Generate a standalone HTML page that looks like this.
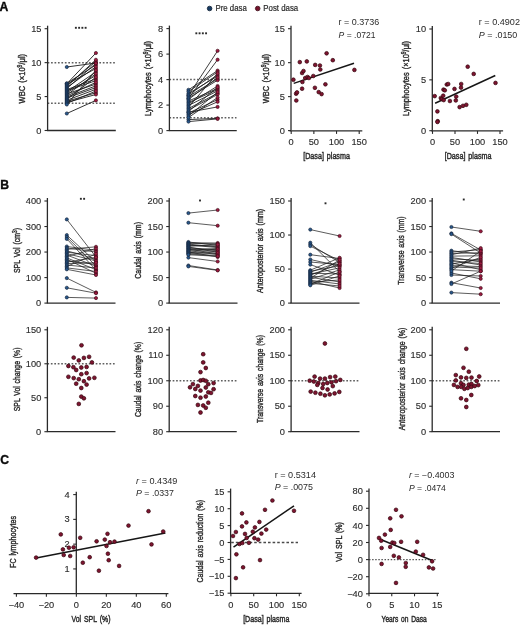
<!DOCTYPE html>
<html><head><meta charset="utf-8"><style>
html,body{margin:0;padding:0;background:#fff;}
body{width:520px;height:625px;overflow:hidden;}
svg{display:block;font-family:"Liberation Sans",sans-serif;will-change:transform;}
</style></head><body>
<svg width="520" height="625" viewBox="0 0 520 625">
<rect width="520" height="625" fill="#fff"/>
<text x="-0.4" y="10.5" font-size="12.2" font-weight="bold" fill="#0a0a0a" stroke="#0a0a0a" stroke-width="0.35">A</text>
<text x="0.3" y="189.2" font-size="12.2" font-weight="bold" fill="#0a0a0a" stroke="#0a0a0a" stroke-width="0.35">B</text>
<text x="0.2" y="463.8" font-size="12.2" font-weight="bold" fill="#0a0a0a" stroke="#0a0a0a" stroke-width="0.35">C</text>
<circle cx="209.60" cy="8.50" r="2.3" fill="#183c63" stroke="#0f1f33" stroke-width="0.8"/>
<text x="215.50" y="11.40" font-size="8.6" text-anchor="start" fill="#2b2b2b" stroke="#2b2b2b" stroke-width="0.2" textLength="31.3" lengthAdjust="spacingAndGlyphs" >Pre dasa</text>
<circle cx="257.70" cy="8.50" r="2.3" fill="#75122c" stroke="#3a0915" stroke-width="0.8"/>
<text x="263.30" y="11.40" font-size="8.6" text-anchor="start" fill="#2b2b2b" stroke="#2b2b2b" stroke-width="0.2" textLength="34.9" lengthAdjust="spacingAndGlyphs" >Post dasa</text>
<line x1="47.60" y1="62.63" x2="115.50" y2="62.63" stroke="#606060" stroke-width="1.5" stroke-dasharray="1.7 1.75"/>
<line x1="47.60" y1="103.35" x2="115.50" y2="103.35" stroke="#606060" stroke-width="1.5" stroke-dasharray="1.7 1.75"/>
<line x1="47.60" y1="130.50" x2="47.60" y2="25.70" stroke="#2a2a2a" stroke-width="1.3" />
<line x1="44.60" y1="130.50" x2="47.60" y2="130.50" stroke="#2a2a2a" stroke-width="1.1" />
<text x="41.50" y="133.60" font-size="8.6" text-anchor="end" fill="#2b2b2b" stroke="#2b2b2b" stroke-width="0.12" textLength="5.16" lengthAdjust="spacingAndGlyphs" >0</text>
<line x1="44.60" y1="96.57" x2="47.60" y2="96.57" stroke="#2a2a2a" stroke-width="1.1" />
<text x="41.50" y="99.66" font-size="8.6" text-anchor="end" fill="#2b2b2b" stroke="#2b2b2b" stroke-width="0.12" textLength="5.16" lengthAdjust="spacingAndGlyphs" >5</text>
<line x1="44.60" y1="62.63" x2="47.60" y2="62.63" stroke="#2a2a2a" stroke-width="1.1" />
<text x="41.50" y="65.73" font-size="8.6" text-anchor="end" fill="#2b2b2b" stroke="#2b2b2b" stroke-width="0.12" textLength="10.33" lengthAdjust="spacingAndGlyphs" >10</text>
<line x1="44.60" y1="28.70" x2="47.60" y2="28.70" stroke="#2a2a2a" stroke-width="1.1" />
<text x="41.50" y="31.80" font-size="8.6" text-anchor="end" fill="#2b2b2b" stroke="#2b2b2b" stroke-width="0.12" textLength="10.33" lengthAdjust="spacingAndGlyphs" >15</text>
<line x1="47.00" y1="130.50" x2="115.80" y2="130.50" stroke="#2a2a2a" stroke-width="1.3" />
<text transform="translate(24.50,78.70) rotate(-90)" font-size="9.3" text-anchor="middle" fill="#2b2b2b" stroke="#2b2b2b" stroke-width="0.4" word-spacing="1.3" textLength="49.6" lengthAdjust="spacingAndGlyphs">WBC (×10<tspan dy="-3" font-size="6.3">9</tspan><tspan dy="3">/μl)</tspan></text>
<rect x="74.92" y="26.85" width="1.9" height="1.9" fill="#2a2a2a"/>
<rect x="78.17" y="26.85" width="1.9" height="1.9" fill="#2a2a2a"/>
<rect x="81.42" y="26.85" width="1.9" height="1.9" fill="#2a2a2a"/>
<rect x="84.67" y="26.85" width="1.9" height="1.9" fill="#2a2a2a"/>
<line x1="66.80" y1="67.00" x2="95.90" y2="63.00" stroke="#1c1c1c" stroke-width="0.9" />
<line x1="66.80" y1="113.50" x2="95.90" y2="100.40" stroke="#1c1c1c" stroke-width="0.9" />
<line x1="66.80" y1="83.80" x2="95.90" y2="53.00" stroke="#1c1c1c" stroke-width="0.9" />
<line x1="66.80" y1="83.26" x2="95.90" y2="65.00" stroke="#1c1c1c" stroke-width="0.9" />
<line x1="66.80" y1="84.32" x2="95.90" y2="68.47" stroke="#1c1c1c" stroke-width="0.9" />
<line x1="66.80" y1="85.39" x2="95.90" y2="61.53" stroke="#1c1c1c" stroke-width="0.9" />
<line x1="66.80" y1="86.45" x2="95.90" y2="59.80" stroke="#1c1c1c" stroke-width="0.9" />
<line x1="66.80" y1="87.51" x2="95.90" y2="66.74" stroke="#1c1c1c" stroke-width="0.9" />
<line x1="66.80" y1="88.57" x2="95.90" y2="63.27" stroke="#1c1c1c" stroke-width="0.9" />
<line x1="66.80" y1="89.63" x2="95.90" y2="78.88" stroke="#1c1c1c" stroke-width="0.9" />
<line x1="66.80" y1="90.70" x2="95.90" y2="80.62" stroke="#1c1c1c" stroke-width="0.9" />
<line x1="66.80" y1="91.76" x2="95.90" y2="71.94" stroke="#1c1c1c" stroke-width="0.9" />
<line x1="66.80" y1="92.82" x2="95.90" y2="75.41" stroke="#1c1c1c" stroke-width="0.9" />
<line x1="66.80" y1="93.88" x2="95.90" y2="84.09" stroke="#1c1c1c" stroke-width="0.9" />
<line x1="66.80" y1="94.94" x2="95.90" y2="73.68" stroke="#1c1c1c" stroke-width="0.9" />
<line x1="66.80" y1="96.00" x2="95.90" y2="82.35" stroke="#1c1c1c" stroke-width="0.9" />
<line x1="66.80" y1="97.07" x2="95.90" y2="85.82" stroke="#1c1c1c" stroke-width="0.9" />
<line x1="66.80" y1="98.13" x2="95.90" y2="87.56" stroke="#1c1c1c" stroke-width="0.9" />
<line x1="66.80" y1="99.19" x2="95.90" y2="77.15" stroke="#1c1c1c" stroke-width="0.9" />
<line x1="66.80" y1="100.25" x2="95.90" y2="89.30" stroke="#1c1c1c" stroke-width="0.9" />
<line x1="66.80" y1="101.31" x2="95.90" y2="92.77" stroke="#1c1c1c" stroke-width="0.9" />
<line x1="66.80" y1="102.38" x2="95.90" y2="94.50" stroke="#1c1c1c" stroke-width="0.9" />
<line x1="66.80" y1="103.44" x2="95.90" y2="91.03" stroke="#1c1c1c" stroke-width="0.9" />
<line x1="66.80" y1="104.50" x2="95.90" y2="70.21" stroke="#1c1c1c" stroke-width="0.9" />
<circle cx="66.80" cy="67.00" r="1.6" fill="#28588c" stroke="#142238" stroke-width="0.65"/>
<circle cx="66.80" cy="113.50" r="1.6" fill="#28588c" stroke="#142238" stroke-width="0.65"/>
<circle cx="66.80" cy="83.80" r="1.6" fill="#28588c" stroke="#142238" stroke-width="0.65"/>
<circle cx="66.80" cy="83.26" r="1.6" fill="#28588c" stroke="#142238" stroke-width="0.65"/>
<circle cx="66.80" cy="84.32" r="1.6" fill="#28588c" stroke="#142238" stroke-width="0.65"/>
<circle cx="66.80" cy="85.39" r="1.6" fill="#28588c" stroke="#142238" stroke-width="0.65"/>
<circle cx="66.80" cy="86.45" r="1.6" fill="#28588c" stroke="#142238" stroke-width="0.65"/>
<circle cx="66.80" cy="87.51" r="1.6" fill="#28588c" stroke="#142238" stroke-width="0.65"/>
<circle cx="66.80" cy="88.57" r="1.6" fill="#28588c" stroke="#142238" stroke-width="0.65"/>
<circle cx="66.80" cy="89.63" r="1.6" fill="#28588c" stroke="#142238" stroke-width="0.65"/>
<circle cx="66.80" cy="90.70" r="1.6" fill="#28588c" stroke="#142238" stroke-width="0.65"/>
<circle cx="66.80" cy="91.76" r="1.6" fill="#28588c" stroke="#142238" stroke-width="0.65"/>
<circle cx="66.80" cy="92.82" r="1.6" fill="#28588c" stroke="#142238" stroke-width="0.65"/>
<circle cx="66.80" cy="93.88" r="1.6" fill="#28588c" stroke="#142238" stroke-width="0.65"/>
<circle cx="66.80" cy="94.94" r="1.6" fill="#28588c" stroke="#142238" stroke-width="0.65"/>
<circle cx="66.80" cy="96.00" r="1.6" fill="#28588c" stroke="#142238" stroke-width="0.65"/>
<circle cx="66.80" cy="97.07" r="1.6" fill="#28588c" stroke="#142238" stroke-width="0.65"/>
<circle cx="66.80" cy="98.13" r="1.6" fill="#28588c" stroke="#142238" stroke-width="0.65"/>
<circle cx="66.80" cy="99.19" r="1.6" fill="#28588c" stroke="#142238" stroke-width="0.65"/>
<circle cx="66.80" cy="100.25" r="1.6" fill="#28588c" stroke="#142238" stroke-width="0.65"/>
<circle cx="66.80" cy="101.31" r="1.6" fill="#28588c" stroke="#142238" stroke-width="0.65"/>
<circle cx="66.80" cy="102.38" r="1.6" fill="#28588c" stroke="#142238" stroke-width="0.65"/>
<circle cx="66.80" cy="103.44" r="1.6" fill="#28588c" stroke="#142238" stroke-width="0.65"/>
<circle cx="66.80" cy="104.50" r="1.6" fill="#28588c" stroke="#142238" stroke-width="0.65"/>
<circle cx="95.90" cy="63.00" r="1.6" fill="#9c1a40" stroke="#3a0916" stroke-width="0.65"/>
<circle cx="95.90" cy="100.40" r="1.6" fill="#9c1a40" stroke="#3a0916" stroke-width="0.65"/>
<circle cx="95.90" cy="53.00" r="1.6" fill="#9c1a40" stroke="#3a0916" stroke-width="0.65"/>
<circle cx="95.90" cy="65.00" r="1.6" fill="#9c1a40" stroke="#3a0916" stroke-width="0.65"/>
<circle cx="95.90" cy="68.47" r="1.6" fill="#9c1a40" stroke="#3a0916" stroke-width="0.65"/>
<circle cx="95.90" cy="61.53" r="1.6" fill="#9c1a40" stroke="#3a0916" stroke-width="0.65"/>
<circle cx="95.90" cy="59.80" r="1.6" fill="#9c1a40" stroke="#3a0916" stroke-width="0.65"/>
<circle cx="95.90" cy="66.74" r="1.6" fill="#9c1a40" stroke="#3a0916" stroke-width="0.65"/>
<circle cx="95.90" cy="63.27" r="1.6" fill="#9c1a40" stroke="#3a0916" stroke-width="0.65"/>
<circle cx="95.90" cy="78.88" r="1.6" fill="#9c1a40" stroke="#3a0916" stroke-width="0.65"/>
<circle cx="95.90" cy="80.62" r="1.6" fill="#9c1a40" stroke="#3a0916" stroke-width="0.65"/>
<circle cx="95.90" cy="71.94" r="1.6" fill="#9c1a40" stroke="#3a0916" stroke-width="0.65"/>
<circle cx="95.90" cy="75.41" r="1.6" fill="#9c1a40" stroke="#3a0916" stroke-width="0.65"/>
<circle cx="95.90" cy="84.09" r="1.6" fill="#9c1a40" stroke="#3a0916" stroke-width="0.65"/>
<circle cx="95.90" cy="73.68" r="1.6" fill="#9c1a40" stroke="#3a0916" stroke-width="0.65"/>
<circle cx="95.90" cy="82.35" r="1.6" fill="#9c1a40" stroke="#3a0916" stroke-width="0.65"/>
<circle cx="95.90" cy="85.82" r="1.6" fill="#9c1a40" stroke="#3a0916" stroke-width="0.65"/>
<circle cx="95.90" cy="87.56" r="1.6" fill="#9c1a40" stroke="#3a0916" stroke-width="0.65"/>
<circle cx="95.90" cy="77.15" r="1.6" fill="#9c1a40" stroke="#3a0916" stroke-width="0.65"/>
<circle cx="95.90" cy="89.30" r="1.6" fill="#9c1a40" stroke="#3a0916" stroke-width="0.65"/>
<circle cx="95.90" cy="92.77" r="1.6" fill="#9c1a40" stroke="#3a0916" stroke-width="0.65"/>
<circle cx="95.90" cy="94.50" r="1.6" fill="#9c1a40" stroke="#3a0916" stroke-width="0.65"/>
<circle cx="95.90" cy="91.03" r="1.6" fill="#9c1a40" stroke="#3a0916" stroke-width="0.65"/>
<circle cx="95.90" cy="70.21" r="1.6" fill="#9c1a40" stroke="#3a0916" stroke-width="0.65"/>
<line x1="169.40" y1="79.60" x2="236.50" y2="79.60" stroke="#606060" stroke-width="1.5" stroke-dasharray="1.7 1.75"/>
<line x1="169.40" y1="117.85" x2="236.50" y2="117.85" stroke="#606060" stroke-width="1.5" stroke-dasharray="1.7 1.75"/>
<line x1="169.40" y1="130.60" x2="169.40" y2="25.60" stroke="#2a2a2a" stroke-width="1.3" />
<line x1="166.40" y1="130.60" x2="169.40" y2="130.60" stroke="#2a2a2a" stroke-width="1.1" />
<text x="163.30" y="133.70" font-size="8.6" text-anchor="end" fill="#2b2b2b" stroke="#2b2b2b" stroke-width="0.12" textLength="5.16" lengthAdjust="spacingAndGlyphs" >0</text>
<line x1="166.40" y1="105.10" x2="169.40" y2="105.10" stroke="#2a2a2a" stroke-width="1.1" />
<text x="163.30" y="108.20" font-size="8.6" text-anchor="end" fill="#2b2b2b" stroke="#2b2b2b" stroke-width="0.12" textLength="5.16" lengthAdjust="spacingAndGlyphs" >2</text>
<line x1="166.40" y1="79.60" x2="169.40" y2="79.60" stroke="#2a2a2a" stroke-width="1.1" />
<text x="163.30" y="82.70" font-size="8.6" text-anchor="end" fill="#2b2b2b" stroke="#2b2b2b" stroke-width="0.12" textLength="5.16" lengthAdjust="spacingAndGlyphs" >4</text>
<line x1="166.40" y1="54.10" x2="169.40" y2="54.10" stroke="#2a2a2a" stroke-width="1.1" />
<text x="163.30" y="57.20" font-size="8.6" text-anchor="end" fill="#2b2b2b" stroke="#2b2b2b" stroke-width="0.12" textLength="5.16" lengthAdjust="spacingAndGlyphs" >6</text>
<line x1="166.40" y1="28.60" x2="169.40" y2="28.60" stroke="#2a2a2a" stroke-width="1.1" />
<text x="163.30" y="31.70" font-size="8.6" text-anchor="end" fill="#2b2b2b" stroke="#2b2b2b" stroke-width="0.12" textLength="5.16" lengthAdjust="spacingAndGlyphs" >8</text>
<line x1="168.80" y1="130.60" x2="236.75" y2="130.60" stroke="#2a2a2a" stroke-width="1.3" />
<text transform="translate(150.70,78.40) rotate(-90)" font-size="9.3" text-anchor="middle" fill="#2b2b2b" stroke="#2b2b2b" stroke-width="0.4" word-spacing="1.3" textLength="75.0" lengthAdjust="spacingAndGlyphs">Lymphocytes (×10<tspan dy="-3" font-size="6.3">9</tspan><tspan dy="3">/μl)</tspan></text>
<rect x="195.38" y="32.35" width="1.9" height="1.9" fill="#2a2a2a"/>
<rect x="198.62" y="32.35" width="1.9" height="1.9" fill="#2a2a2a"/>
<rect x="201.88" y="32.35" width="1.9" height="1.9" fill="#2a2a2a"/>
<rect x="205.12" y="32.35" width="1.9" height="1.9" fill="#2a2a2a"/>
<line x1="188.50" y1="95.40" x2="217.60" y2="50.80" stroke="#1c1c1c" stroke-width="0.85" />
<line x1="188.50" y1="98.50" x2="217.60" y2="59.70" stroke="#1c1c1c" stroke-width="0.85" />
<line x1="188.50" y1="119.60" x2="217.60" y2="118.30" stroke="#1c1c1c" stroke-width="0.85" />
<line x1="188.50" y1="121.60" x2="217.60" y2="118.90" stroke="#1c1c1c" stroke-width="0.85" />
<line x1="188.50" y1="112.30" x2="217.60" y2="106.90" stroke="#1c1c1c" stroke-width="0.85" />
<line x1="188.50" y1="89.80" x2="217.60" y2="70.60" stroke="#1c1c1c" stroke-width="0.85" />
<line x1="188.50" y1="91.50" x2="217.60" y2="71.97" stroke="#1c1c1c" stroke-width="0.85" />
<line x1="188.50" y1="93.50" x2="217.60" y2="76.09" stroke="#1c1c1c" stroke-width="0.85" />
<line x1="188.50" y1="95.00" x2="217.60" y2="74.71" stroke="#1c1c1c" stroke-width="0.85" />
<line x1="188.50" y1="96.50" x2="217.60" y2="78.83" stroke="#1c1c1c" stroke-width="0.85" />
<line x1="188.50" y1="98.00" x2="217.60" y2="80.20" stroke="#1c1c1c" stroke-width="0.85" />
<line x1="188.50" y1="99.50" x2="217.60" y2="77.46" stroke="#1c1c1c" stroke-width="0.85" />
<line x1="188.50" y1="101.00" x2="217.60" y2="88.43" stroke="#1c1c1c" stroke-width="0.85" />
<line x1="188.50" y1="102.50" x2="217.60" y2="89.64" stroke="#1c1c1c" stroke-width="0.85" />
<line x1="188.50" y1="104.00" x2="217.60" y2="86.00" stroke="#1c1c1c" stroke-width="0.85" />
<line x1="188.50" y1="105.50" x2="217.60" y2="90.86" stroke="#1c1c1c" stroke-width="0.85" />
<line x1="188.50" y1="107.00" x2="217.60" y2="73.34" stroke="#1c1c1c" stroke-width="0.85" />
<line x1="188.50" y1="108.50" x2="217.60" y2="93.29" stroke="#1c1c1c" stroke-width="0.85" />
<line x1="188.50" y1="110.00" x2="217.60" y2="94.50" stroke="#1c1c1c" stroke-width="0.85" />
<line x1="188.50" y1="111.50" x2="217.60" y2="87.21" stroke="#1c1c1c" stroke-width="0.85" />
<line x1="188.50" y1="113.00" x2="217.60" y2="99.65" stroke="#1c1c1c" stroke-width="0.85" />
<line x1="188.50" y1="114.50" x2="217.60" y2="101.80" stroke="#1c1c1c" stroke-width="0.85" />
<line x1="188.50" y1="116.00" x2="217.60" y2="92.07" stroke="#1c1c1c" stroke-width="0.85" />
<line x1="188.50" y1="117.50" x2="217.60" y2="97.50" stroke="#1c1c1c" stroke-width="0.85" />
<circle cx="188.50" cy="95.40" r="1.6" fill="#28588c" stroke="#142238" stroke-width="0.65"/>
<circle cx="188.50" cy="98.50" r="1.6" fill="#28588c" stroke="#142238" stroke-width="0.65"/>
<circle cx="188.50" cy="119.60" r="1.6" fill="#28588c" stroke="#142238" stroke-width="0.65"/>
<circle cx="188.50" cy="121.60" r="1.6" fill="#28588c" stroke="#142238" stroke-width="0.65"/>
<circle cx="188.50" cy="112.30" r="1.6" fill="#28588c" stroke="#142238" stroke-width="0.65"/>
<circle cx="188.50" cy="89.80" r="1.6" fill="#28588c" stroke="#142238" stroke-width="0.65"/>
<circle cx="188.50" cy="91.50" r="1.6" fill="#28588c" stroke="#142238" stroke-width="0.65"/>
<circle cx="188.50" cy="93.50" r="1.6" fill="#28588c" stroke="#142238" stroke-width="0.65"/>
<circle cx="188.50" cy="95.00" r="1.6" fill="#28588c" stroke="#142238" stroke-width="0.65"/>
<circle cx="188.50" cy="96.50" r="1.6" fill="#28588c" stroke="#142238" stroke-width="0.65"/>
<circle cx="188.50" cy="98.00" r="1.6" fill="#28588c" stroke="#142238" stroke-width="0.65"/>
<circle cx="188.50" cy="99.50" r="1.6" fill="#28588c" stroke="#142238" stroke-width="0.65"/>
<circle cx="188.50" cy="101.00" r="1.6" fill="#28588c" stroke="#142238" stroke-width="0.65"/>
<circle cx="188.50" cy="102.50" r="1.6" fill="#28588c" stroke="#142238" stroke-width="0.65"/>
<circle cx="188.50" cy="104.00" r="1.6" fill="#28588c" stroke="#142238" stroke-width="0.65"/>
<circle cx="188.50" cy="105.50" r="1.6" fill="#28588c" stroke="#142238" stroke-width="0.65"/>
<circle cx="188.50" cy="107.00" r="1.6" fill="#28588c" stroke="#142238" stroke-width="0.65"/>
<circle cx="188.50" cy="108.50" r="1.6" fill="#28588c" stroke="#142238" stroke-width="0.65"/>
<circle cx="188.50" cy="110.00" r="1.6" fill="#28588c" stroke="#142238" stroke-width="0.65"/>
<circle cx="188.50" cy="111.50" r="1.6" fill="#28588c" stroke="#142238" stroke-width="0.65"/>
<circle cx="188.50" cy="113.00" r="1.6" fill="#28588c" stroke="#142238" stroke-width="0.65"/>
<circle cx="188.50" cy="114.50" r="1.6" fill="#28588c" stroke="#142238" stroke-width="0.65"/>
<circle cx="188.50" cy="116.00" r="1.6" fill="#28588c" stroke="#142238" stroke-width="0.65"/>
<circle cx="188.50" cy="117.50" r="1.6" fill="#28588c" stroke="#142238" stroke-width="0.65"/>
<circle cx="217.60" cy="50.80" r="1.6" fill="#9c1a40" stroke="#3a0916" stroke-width="0.65"/>
<circle cx="217.60" cy="59.70" r="1.6" fill="#9c1a40" stroke="#3a0916" stroke-width="0.65"/>
<circle cx="217.60" cy="118.30" r="1.6" fill="#9c1a40" stroke="#3a0916" stroke-width="0.65"/>
<circle cx="217.60" cy="118.90" r="1.6" fill="#9c1a40" stroke="#3a0916" stroke-width="0.65"/>
<circle cx="217.60" cy="106.90" r="1.6" fill="#9c1a40" stroke="#3a0916" stroke-width="0.65"/>
<circle cx="217.60" cy="70.60" r="1.6" fill="#9c1a40" stroke="#3a0916" stroke-width="0.65"/>
<circle cx="217.60" cy="71.97" r="1.6" fill="#9c1a40" stroke="#3a0916" stroke-width="0.65"/>
<circle cx="217.60" cy="76.09" r="1.6" fill="#9c1a40" stroke="#3a0916" stroke-width="0.65"/>
<circle cx="217.60" cy="74.71" r="1.6" fill="#9c1a40" stroke="#3a0916" stroke-width="0.65"/>
<circle cx="217.60" cy="78.83" r="1.6" fill="#9c1a40" stroke="#3a0916" stroke-width="0.65"/>
<circle cx="217.60" cy="80.20" r="1.6" fill="#9c1a40" stroke="#3a0916" stroke-width="0.65"/>
<circle cx="217.60" cy="77.46" r="1.6" fill="#9c1a40" stroke="#3a0916" stroke-width="0.65"/>
<circle cx="217.60" cy="88.43" r="1.6" fill="#9c1a40" stroke="#3a0916" stroke-width="0.65"/>
<circle cx="217.60" cy="89.64" r="1.6" fill="#9c1a40" stroke="#3a0916" stroke-width="0.65"/>
<circle cx="217.60" cy="86.00" r="1.6" fill="#9c1a40" stroke="#3a0916" stroke-width="0.65"/>
<circle cx="217.60" cy="90.86" r="1.6" fill="#9c1a40" stroke="#3a0916" stroke-width="0.65"/>
<circle cx="217.60" cy="73.34" r="1.6" fill="#9c1a40" stroke="#3a0916" stroke-width="0.65"/>
<circle cx="217.60" cy="93.29" r="1.6" fill="#9c1a40" stroke="#3a0916" stroke-width="0.65"/>
<circle cx="217.60" cy="94.50" r="1.6" fill="#9c1a40" stroke="#3a0916" stroke-width="0.65"/>
<circle cx="217.60" cy="87.21" r="1.6" fill="#9c1a40" stroke="#3a0916" stroke-width="0.65"/>
<circle cx="217.60" cy="99.65" r="1.6" fill="#9c1a40" stroke="#3a0916" stroke-width="0.65"/>
<circle cx="217.60" cy="101.80" r="1.6" fill="#9c1a40" stroke="#3a0916" stroke-width="0.65"/>
<circle cx="217.60" cy="92.07" r="1.6" fill="#9c1a40" stroke="#3a0916" stroke-width="0.65"/>
<circle cx="217.60" cy="97.50" r="1.6" fill="#9c1a40" stroke="#3a0916" stroke-width="0.65"/>
<line x1="291.00" y1="130.60" x2="291.00" y2="25.70" stroke="#2a2a2a" stroke-width="1.3" />
<line x1="288.00" y1="130.60" x2="291.00" y2="130.60" stroke="#2a2a2a" stroke-width="1.1" />
<text x="284.90" y="133.70" font-size="8.6" text-anchor="end" fill="#2b2b2b" stroke="#2b2b2b" stroke-width="0.12" textLength="5.16" lengthAdjust="spacingAndGlyphs" >0</text>
<line x1="288.00" y1="96.63" x2="291.00" y2="96.63" stroke="#2a2a2a" stroke-width="1.1" />
<text x="284.90" y="99.73" font-size="8.6" text-anchor="end" fill="#2b2b2b" stroke="#2b2b2b" stroke-width="0.12" textLength="5.16" lengthAdjust="spacingAndGlyphs" >5</text>
<line x1="288.00" y1="62.67" x2="291.00" y2="62.67" stroke="#2a2a2a" stroke-width="1.1" />
<text x="284.90" y="65.76" font-size="8.6" text-anchor="end" fill="#2b2b2b" stroke="#2b2b2b" stroke-width="0.12" textLength="10.33" lengthAdjust="spacingAndGlyphs" >10</text>
<line x1="288.00" y1="28.70" x2="291.00" y2="28.70" stroke="#2a2a2a" stroke-width="1.1" />
<text x="284.90" y="31.80" font-size="8.6" text-anchor="end" fill="#2b2b2b" stroke="#2b2b2b" stroke-width="0.12" textLength="10.33" lengthAdjust="spacingAndGlyphs" >15</text>
<line x1="289.60" y1="130.90" x2="362.30" y2="130.90" stroke="#2a2a2a" stroke-width="1.3" />
<line x1="291.20" y1="130.90" x2="291.20" y2="133.90" stroke="#2a2a2a" stroke-width="1.1" />
<text x="291.20" y="145.10" font-size="8.6" text-anchor="middle" fill="#2b2b2b" stroke="#2b2b2b" stroke-width="0.12" textLength="5.16" lengthAdjust="spacingAndGlyphs" >0</text>
<line x1="313.87" y1="130.90" x2="313.87" y2="133.90" stroke="#2a2a2a" stroke-width="1.1" />
<text x="313.87" y="145.10" font-size="8.6" text-anchor="middle" fill="#2b2b2b" stroke="#2b2b2b" stroke-width="0.12" textLength="10.33" lengthAdjust="spacingAndGlyphs" >50</text>
<line x1="336.53" y1="130.90" x2="336.53" y2="133.90" stroke="#2a2a2a" stroke-width="1.1" />
<text x="336.53" y="145.10" font-size="8.6" text-anchor="middle" fill="#2b2b2b" stroke="#2b2b2b" stroke-width="0.12" textLength="15.49" lengthAdjust="spacingAndGlyphs" >100</text>
<line x1="359.20" y1="130.90" x2="359.20" y2="133.90" stroke="#2a2a2a" stroke-width="1.1" />
<text x="359.20" y="145.10" font-size="8.6" text-anchor="middle" fill="#2b2b2b" stroke="#2b2b2b" stroke-width="0.12" textLength="15.49" lengthAdjust="spacingAndGlyphs" >150</text>
<text transform="translate(268.50,78.60) rotate(-90)" font-size="9.3" text-anchor="middle" fill="#2b2b2b" stroke="#2b2b2b" stroke-width="0.4" word-spacing="1.3" textLength="49.4" lengthAdjust="spacingAndGlyphs">WBC (×10<tspan dy="-3" font-size="6.3">9</tspan><tspan dy="3">/μl)</tspan></text>
<text x="326.55" y="159.40" font-size="9.600000000000001" text-anchor="middle" fill="#2b2b2b" stroke="#2b2b2b" stroke-width="0.45" word-spacing="1.3" textLength="46.7" lengthAdjust="spacingAndGlyphs">[Dasa] plasma</text>
<text x="338.60" y="25.10" font-size="8.3" fill="#2b2b2b" textLength="40.6" lengthAdjust="spacingAndGlyphs">r = 0.3736</text>
<text x="338.60" y="37.60" font-size="8.3" fill="#2b2b2b" textLength="36.8" lengthAdjust="spacingAndGlyphs"><tspan font-style="italic">P</tspan> = .0721</text>
<line x1="293.70" y1="83.40" x2="354.00" y2="63.20" stroke="#161616" stroke-width="1.5" />
<circle cx="293.40" cy="79.70" r="1.85" fill="#7e1430" stroke="#34070f" stroke-width="0.7"/>
<circle cx="296.30" cy="100.50" r="1.85" fill="#7e1430" stroke="#34070f" stroke-width="0.7"/>
<circle cx="296.10" cy="93.70" r="1.85" fill="#7e1430" stroke="#34070f" stroke-width="0.7"/>
<circle cx="297.00" cy="92.40" r="1.85" fill="#7e1430" stroke="#34070f" stroke-width="0.7"/>
<circle cx="299.80" cy="62.10" r="1.85" fill="#7e1430" stroke="#34070f" stroke-width="0.7"/>
<circle cx="302.10" cy="73.00" r="1.85" fill="#7e1430" stroke="#34070f" stroke-width="0.7"/>
<circle cx="303.50" cy="71.00" r="1.85" fill="#7e1430" stroke="#34070f" stroke-width="0.7"/>
<circle cx="302.40" cy="82.00" r="1.85" fill="#7e1430" stroke="#34070f" stroke-width="0.7"/>
<circle cx="302.10" cy="88.70" r="1.85" fill="#7e1430" stroke="#34070f" stroke-width="0.7"/>
<circle cx="305.20" cy="78.00" r="1.85" fill="#7e1430" stroke="#34070f" stroke-width="0.7"/>
<circle cx="306.80" cy="61.40" r="1.85" fill="#7e1430" stroke="#34070f" stroke-width="0.7"/>
<circle cx="307.50" cy="77.00" r="1.85" fill="#7e1430" stroke="#34070f" stroke-width="0.7"/>
<circle cx="308.90" cy="78.00" r="1.85" fill="#7e1430" stroke="#34070f" stroke-width="0.7"/>
<circle cx="313.30" cy="76.00" r="1.85" fill="#7e1430" stroke="#34070f" stroke-width="0.7"/>
<circle cx="314.90" cy="87.80" r="1.85" fill="#7e1430" stroke="#34070f" stroke-width="0.7"/>
<circle cx="315.20" cy="64.90" r="1.85" fill="#7e1430" stroke="#34070f" stroke-width="0.7"/>
<circle cx="318.70" cy="92.10" r="1.85" fill="#7e1430" stroke="#34070f" stroke-width="0.7"/>
<circle cx="319.90" cy="65.50" r="1.85" fill="#7e1430" stroke="#34070f" stroke-width="0.7"/>
<circle cx="320.30" cy="69.50" r="1.85" fill="#7e1430" stroke="#34070f" stroke-width="0.7"/>
<circle cx="321.60" cy="94.10" r="1.85" fill="#7e1430" stroke="#34070f" stroke-width="0.7"/>
<circle cx="325.40" cy="84.30" r="1.85" fill="#7e1430" stroke="#34070f" stroke-width="0.7"/>
<circle cx="326.60" cy="53.30" r="1.85" fill="#7e1430" stroke="#34070f" stroke-width="0.7"/>
<circle cx="332.80" cy="60.20" r="1.85" fill="#7e1430" stroke="#34070f" stroke-width="0.7"/>
<circle cx="354.40" cy="69.90" r="1.85" fill="#7e1430" stroke="#34070f" stroke-width="0.7"/>
<line x1="432.30" y1="130.70" x2="432.30" y2="26.00" stroke="#2a2a2a" stroke-width="1.3" />
<line x1="429.30" y1="130.70" x2="432.30" y2="130.70" stroke="#2a2a2a" stroke-width="1.1" />
<text x="426.20" y="133.80" font-size="8.6" text-anchor="end" fill="#2b2b2b" stroke="#2b2b2b" stroke-width="0.12" textLength="5.16" lengthAdjust="spacingAndGlyphs" >0</text>
<line x1="429.30" y1="79.85" x2="432.30" y2="79.85" stroke="#2a2a2a" stroke-width="1.1" />
<text x="426.20" y="82.95" font-size="8.6" text-anchor="end" fill="#2b2b2b" stroke="#2b2b2b" stroke-width="0.12" textLength="5.16" lengthAdjust="spacingAndGlyphs" >5</text>
<line x1="429.30" y1="29.00" x2="432.30" y2="29.00" stroke="#2a2a2a" stroke-width="1.1" />
<text x="426.20" y="32.10" font-size="8.6" text-anchor="end" fill="#2b2b2b" stroke="#2b2b2b" stroke-width="0.12" textLength="10.33" lengthAdjust="spacingAndGlyphs" >10</text>
<line x1="431.30" y1="130.90" x2="503.10" y2="130.90" stroke="#2a2a2a" stroke-width="1.3" />
<line x1="432.50" y1="130.90" x2="432.50" y2="133.90" stroke="#2a2a2a" stroke-width="1.1" />
<text x="432.50" y="145.10" font-size="8.6" text-anchor="middle" fill="#2b2b2b" stroke="#2b2b2b" stroke-width="0.12" textLength="5.16" lengthAdjust="spacingAndGlyphs" >0</text>
<line x1="455.00" y1="130.90" x2="455.00" y2="133.90" stroke="#2a2a2a" stroke-width="1.1" />
<text x="455.00" y="145.10" font-size="8.6" text-anchor="middle" fill="#2b2b2b" stroke="#2b2b2b" stroke-width="0.12" textLength="10.33" lengthAdjust="spacingAndGlyphs" >50</text>
<line x1="477.50" y1="130.90" x2="477.50" y2="133.90" stroke="#2a2a2a" stroke-width="1.1" />
<text x="477.50" y="145.10" font-size="8.6" text-anchor="middle" fill="#2b2b2b" stroke="#2b2b2b" stroke-width="0.12" textLength="15.49" lengthAdjust="spacingAndGlyphs" >100</text>
<line x1="500.00" y1="130.90" x2="500.00" y2="133.90" stroke="#2a2a2a" stroke-width="1.1" />
<text x="500.00" y="145.10" font-size="8.6" text-anchor="middle" fill="#2b2b2b" stroke="#2b2b2b" stroke-width="0.12" textLength="15.49" lengthAdjust="spacingAndGlyphs" >150</text>
<text transform="translate(408.60,78.40) rotate(-90)" font-size="9.3" text-anchor="middle" fill="#2b2b2b" stroke="#2b2b2b" stroke-width="0.4" word-spacing="1.3" textLength="75.0" lengthAdjust="spacingAndGlyphs">Lymphocytes (×10<tspan dy="-3" font-size="6.3">9</tspan><tspan dy="3">/μl)</tspan></text>
<text x="468.10" y="159.20" font-size="9.600000000000001" text-anchor="middle" fill="#2b2b2b" stroke="#2b2b2b" stroke-width="0.45" word-spacing="1.3" textLength="46.8" lengthAdjust="spacingAndGlyphs">[Dasa] plasma</text>
<text x="478.80" y="24.90" font-size="8.3" fill="#2b2b2b" textLength="41.2" lengthAdjust="spacingAndGlyphs">r = 0.4902</text>
<text x="478.80" y="37.60" font-size="8.3" fill="#2b2b2b" textLength="38.5" lengthAdjust="spacingAndGlyphs"><tspan font-style="italic">P</tspan> = .0150</text>
<line x1="435.10" y1="103.30" x2="495.30" y2="75.50" stroke="#161616" stroke-width="1.5" />
<circle cx="434.70" cy="96.10" r="1.85" fill="#7e1430" stroke="#34070f" stroke-width="0.7"/>
<circle cx="437.40" cy="111.40" r="1.85" fill="#7e1430" stroke="#34070f" stroke-width="0.7"/>
<circle cx="437.70" cy="121.20" r="1.85" fill="#7e1430" stroke="#34070f" stroke-width="0.7"/>
<circle cx="437.40" cy="121.90" r="1.85" fill="#7e1430" stroke="#34070f" stroke-width="0.7"/>
<circle cx="440.80" cy="98.00" r="1.85" fill="#7e1430" stroke="#34070f" stroke-width="0.7"/>
<circle cx="441.80" cy="99.00" r="1.85" fill="#7e1430" stroke="#34070f" stroke-width="0.7"/>
<circle cx="443.20" cy="95.70" r="1.85" fill="#7e1430" stroke="#34070f" stroke-width="0.7"/>
<circle cx="443.70" cy="100.10" r="1.85" fill="#7e1430" stroke="#34070f" stroke-width="0.7"/>
<circle cx="443.50" cy="89.60" r="1.85" fill="#7e1430" stroke="#34070f" stroke-width="0.7"/>
<circle cx="444.80" cy="90.30" r="1.85" fill="#7e1430" stroke="#34070f" stroke-width="0.7"/>
<circle cx="446.80" cy="84.50" r="1.85" fill="#7e1430" stroke="#34070f" stroke-width="0.7"/>
<circle cx="448.20" cy="84.00" r="1.85" fill="#7e1430" stroke="#34070f" stroke-width="0.7"/>
<circle cx="449.90" cy="101.00" r="1.85" fill="#7e1430" stroke="#34070f" stroke-width="0.7"/>
<circle cx="454.50" cy="88.90" r="1.85" fill="#7e1430" stroke="#34070f" stroke-width="0.7"/>
<circle cx="456.20" cy="96.60" r="1.85" fill="#7e1430" stroke="#34070f" stroke-width="0.7"/>
<circle cx="455.80" cy="100.40" r="1.85" fill="#7e1430" stroke="#34070f" stroke-width="0.7"/>
<circle cx="459.60" cy="107.10" r="1.85" fill="#7e1430" stroke="#34070f" stroke-width="0.7"/>
<circle cx="461.20" cy="84.00" r="1.85" fill="#7e1430" stroke="#34070f" stroke-width="0.7"/>
<circle cx="461.00" cy="87.60" r="1.85" fill="#7e1430" stroke="#34070f" stroke-width="0.7"/>
<circle cx="463.00" cy="105.80" r="1.85" fill="#7e1430" stroke="#34070f" stroke-width="0.7"/>
<circle cx="466.30" cy="104.80" r="1.85" fill="#7e1430" stroke="#34070f" stroke-width="0.7"/>
<circle cx="467.70" cy="66.70" r="1.85" fill="#7e1430" stroke="#34070f" stroke-width="0.7"/>
<circle cx="473.70" cy="73.90" r="1.85" fill="#7e1430" stroke="#34070f" stroke-width="0.7"/>
<circle cx="495.50" cy="82.90" r="1.85" fill="#7e1430" stroke="#34070f" stroke-width="0.7"/>
<line x1="47.40" y1="303.10" x2="47.40" y2="198.00" stroke="#2a2a2a" stroke-width="1.3" />
<line x1="44.40" y1="303.10" x2="47.40" y2="303.10" stroke="#2a2a2a" stroke-width="1.1" />
<text x="41.30" y="306.20" font-size="8.6" text-anchor="end" fill="#2b2b2b" stroke="#2b2b2b" stroke-width="0.12" textLength="5.16" lengthAdjust="spacingAndGlyphs" >0</text>
<line x1="44.40" y1="277.58" x2="47.40" y2="277.58" stroke="#2a2a2a" stroke-width="1.1" />
<text x="41.30" y="280.67" font-size="8.6" text-anchor="end" fill="#2b2b2b" stroke="#2b2b2b" stroke-width="0.12" textLength="15.49" lengthAdjust="spacingAndGlyphs" >100</text>
<line x1="44.40" y1="252.05" x2="47.40" y2="252.05" stroke="#2a2a2a" stroke-width="1.1" />
<text x="41.30" y="255.15" font-size="8.6" text-anchor="end" fill="#2b2b2b" stroke="#2b2b2b" stroke-width="0.12" textLength="15.49" lengthAdjust="spacingAndGlyphs" >200</text>
<line x1="44.40" y1="226.53" x2="47.40" y2="226.53" stroke="#2a2a2a" stroke-width="1.1" />
<text x="41.30" y="229.62" font-size="8.6" text-anchor="end" fill="#2b2b2b" stroke="#2b2b2b" stroke-width="0.12" textLength="15.49" lengthAdjust="spacingAndGlyphs" >300</text>
<line x1="44.40" y1="201.00" x2="47.40" y2="201.00" stroke="#2a2a2a" stroke-width="1.1" />
<text x="41.30" y="204.10" font-size="8.6" text-anchor="end" fill="#2b2b2b" stroke="#2b2b2b" stroke-width="0.12" textLength="15.49" lengthAdjust="spacingAndGlyphs" >400</text>
<line x1="46.80" y1="303.10" x2="115.50" y2="303.10" stroke="#2a2a2a" stroke-width="1.3" />
<text transform="translate(19.50,250.50) rotate(-90)" font-size="9.3" text-anchor="middle" fill="#2b2b2b" stroke="#2b2b2b" stroke-width="0.4" word-spacing="1.3" textLength="45.2" lengthAdjust="spacingAndGlyphs">SPL Vol (cm<tspan dy="-3" font-size="6.3">3</tspan><tspan dy="3">)</tspan></text>
<rect x="79.92" y="197.85" width="1.9" height="1.9" fill="#2a2a2a"/>
<rect x="83.17" y="197.85" width="1.9" height="1.9" fill="#2a2a2a"/>
<line x1="66.80" y1="219.40" x2="96.00" y2="257.00" stroke="#1c1c1c" stroke-width="0.72" />
<line x1="66.80" y1="278.10" x2="96.00" y2="292.40" stroke="#1c1c1c" stroke-width="0.72" />
<line x1="66.80" y1="287.80" x2="96.00" y2="293.20" stroke="#1c1c1c" stroke-width="0.72" />
<line x1="66.80" y1="297.40" x2="96.00" y2="298.10" stroke="#1c1c1c" stroke-width="0.72" />
<line x1="66.80" y1="235.10" x2="96.00" y2="262.00" stroke="#1c1c1c" stroke-width="0.72" />
<line x1="66.80" y1="237.00" x2="96.00" y2="266.00" stroke="#1c1c1c" stroke-width="0.72" />
<line x1="66.80" y1="238.90" x2="96.00" y2="270.00" stroke="#1c1c1c" stroke-width="0.72" />
<line x1="66.80" y1="246.50" x2="96.00" y2="250.33" stroke="#1c1c1c" stroke-width="0.72" />
<line x1="66.80" y1="247.93" x2="96.00" y2="252.09" stroke="#1c1c1c" stroke-width="0.72" />
<line x1="66.80" y1="249.35" x2="96.00" y2="246.80" stroke="#1c1c1c" stroke-width="0.72" />
<line x1="66.80" y1="250.78" x2="96.00" y2="259.14" stroke="#1c1c1c" stroke-width="0.72" />
<line x1="66.80" y1="252.20" x2="96.00" y2="255.61" stroke="#1c1c1c" stroke-width="0.72" />
<line x1="66.80" y1="253.62" x2="96.00" y2="260.90" stroke="#1c1c1c" stroke-width="0.72" />
<line x1="66.80" y1="255.05" x2="96.00" y2="266.19" stroke="#1c1c1c" stroke-width="0.72" />
<line x1="66.80" y1="256.48" x2="96.00" y2="248.56" stroke="#1c1c1c" stroke-width="0.72" />
<line x1="66.80" y1="257.90" x2="96.00" y2="269.71" stroke="#1c1c1c" stroke-width="0.72" />
<line x1="66.80" y1="259.32" x2="96.00" y2="273.24" stroke="#1c1c1c" stroke-width="0.72" />
<line x1="66.80" y1="260.75" x2="96.00" y2="264.43" stroke="#1c1c1c" stroke-width="0.72" />
<line x1="66.80" y1="262.18" x2="96.00" y2="257.38" stroke="#1c1c1c" stroke-width="0.72" />
<line x1="66.80" y1="263.60" x2="96.00" y2="262.66" stroke="#1c1c1c" stroke-width="0.72" />
<line x1="66.80" y1="265.03" x2="96.00" y2="267.95" stroke="#1c1c1c" stroke-width="0.72" />
<line x1="66.80" y1="266.45" x2="96.00" y2="253.85" stroke="#1c1c1c" stroke-width="0.72" />
<line x1="66.80" y1="267.88" x2="96.00" y2="271.48" stroke="#1c1c1c" stroke-width="0.72" />
<line x1="66.80" y1="269.30" x2="96.00" y2="275.00" stroke="#1c1c1c" stroke-width="0.72" />
<circle cx="66.80" cy="219.40" r="1.6" fill="#28588c" stroke="#142238" stroke-width="0.65"/>
<circle cx="66.80" cy="278.10" r="1.6" fill="#28588c" stroke="#142238" stroke-width="0.65"/>
<circle cx="66.80" cy="287.80" r="1.6" fill="#28588c" stroke="#142238" stroke-width="0.65"/>
<circle cx="66.80" cy="297.40" r="1.6" fill="#28588c" stroke="#142238" stroke-width="0.65"/>
<circle cx="66.80" cy="235.10" r="1.6" fill="#28588c" stroke="#142238" stroke-width="0.65"/>
<circle cx="66.80" cy="237.00" r="1.6" fill="#28588c" stroke="#142238" stroke-width="0.65"/>
<circle cx="66.80" cy="238.90" r="1.6" fill="#28588c" stroke="#142238" stroke-width="0.65"/>
<circle cx="66.80" cy="246.50" r="1.6" fill="#28588c" stroke="#142238" stroke-width="0.65"/>
<circle cx="66.80" cy="247.93" r="1.6" fill="#28588c" stroke="#142238" stroke-width="0.65"/>
<circle cx="66.80" cy="249.35" r="1.6" fill="#28588c" stroke="#142238" stroke-width="0.65"/>
<circle cx="66.80" cy="250.78" r="1.6" fill="#28588c" stroke="#142238" stroke-width="0.65"/>
<circle cx="66.80" cy="252.20" r="1.6" fill="#28588c" stroke="#142238" stroke-width="0.65"/>
<circle cx="66.80" cy="253.62" r="1.6" fill="#28588c" stroke="#142238" stroke-width="0.65"/>
<circle cx="66.80" cy="255.05" r="1.6" fill="#28588c" stroke="#142238" stroke-width="0.65"/>
<circle cx="66.80" cy="256.48" r="1.6" fill="#28588c" stroke="#142238" stroke-width="0.65"/>
<circle cx="66.80" cy="257.90" r="1.6" fill="#28588c" stroke="#142238" stroke-width="0.65"/>
<circle cx="66.80" cy="259.32" r="1.6" fill="#28588c" stroke="#142238" stroke-width="0.65"/>
<circle cx="66.80" cy="260.75" r="1.6" fill="#28588c" stroke="#142238" stroke-width="0.65"/>
<circle cx="66.80" cy="262.18" r="1.6" fill="#28588c" stroke="#142238" stroke-width="0.65"/>
<circle cx="66.80" cy="263.60" r="1.6" fill="#28588c" stroke="#142238" stroke-width="0.65"/>
<circle cx="66.80" cy="265.03" r="1.6" fill="#28588c" stroke="#142238" stroke-width="0.65"/>
<circle cx="66.80" cy="266.45" r="1.6" fill="#28588c" stroke="#142238" stroke-width="0.65"/>
<circle cx="66.80" cy="267.88" r="1.6" fill="#28588c" stroke="#142238" stroke-width="0.65"/>
<circle cx="66.80" cy="269.30" r="1.6" fill="#28588c" stroke="#142238" stroke-width="0.65"/>
<circle cx="96.00" cy="257.00" r="1.6" fill="#9c1a40" stroke="#3a0916" stroke-width="0.65"/>
<circle cx="96.00" cy="292.40" r="1.6" fill="#9c1a40" stroke="#3a0916" stroke-width="0.65"/>
<circle cx="96.00" cy="293.20" r="1.6" fill="#9c1a40" stroke="#3a0916" stroke-width="0.65"/>
<circle cx="96.00" cy="298.10" r="1.6" fill="#9c1a40" stroke="#3a0916" stroke-width="0.65"/>
<circle cx="96.00" cy="262.00" r="1.6" fill="#9c1a40" stroke="#3a0916" stroke-width="0.65"/>
<circle cx="96.00" cy="266.00" r="1.6" fill="#9c1a40" stroke="#3a0916" stroke-width="0.65"/>
<circle cx="96.00" cy="270.00" r="1.6" fill="#9c1a40" stroke="#3a0916" stroke-width="0.65"/>
<circle cx="96.00" cy="250.33" r="1.6" fill="#9c1a40" stroke="#3a0916" stroke-width="0.65"/>
<circle cx="96.00" cy="252.09" r="1.6" fill="#9c1a40" stroke="#3a0916" stroke-width="0.65"/>
<circle cx="96.00" cy="246.80" r="1.6" fill="#9c1a40" stroke="#3a0916" stroke-width="0.65"/>
<circle cx="96.00" cy="259.14" r="1.6" fill="#9c1a40" stroke="#3a0916" stroke-width="0.65"/>
<circle cx="96.00" cy="255.61" r="1.6" fill="#9c1a40" stroke="#3a0916" stroke-width="0.65"/>
<circle cx="96.00" cy="260.90" r="1.6" fill="#9c1a40" stroke="#3a0916" stroke-width="0.65"/>
<circle cx="96.00" cy="266.19" r="1.6" fill="#9c1a40" stroke="#3a0916" stroke-width="0.65"/>
<circle cx="96.00" cy="248.56" r="1.6" fill="#9c1a40" stroke="#3a0916" stroke-width="0.65"/>
<circle cx="96.00" cy="269.71" r="1.6" fill="#9c1a40" stroke="#3a0916" stroke-width="0.65"/>
<circle cx="96.00" cy="273.24" r="1.6" fill="#9c1a40" stroke="#3a0916" stroke-width="0.65"/>
<circle cx="96.00" cy="264.43" r="1.6" fill="#9c1a40" stroke="#3a0916" stroke-width="0.65"/>
<circle cx="96.00" cy="257.38" r="1.6" fill="#9c1a40" stroke="#3a0916" stroke-width="0.65"/>
<circle cx="96.00" cy="262.66" r="1.6" fill="#9c1a40" stroke="#3a0916" stroke-width="0.65"/>
<circle cx="96.00" cy="267.95" r="1.6" fill="#9c1a40" stroke="#3a0916" stroke-width="0.65"/>
<circle cx="96.00" cy="253.85" r="1.6" fill="#9c1a40" stroke="#3a0916" stroke-width="0.65"/>
<circle cx="96.00" cy="271.48" r="1.6" fill="#9c1a40" stroke="#3a0916" stroke-width="0.65"/>
<circle cx="96.00" cy="275.00" r="1.6" fill="#9c1a40" stroke="#3a0916" stroke-width="0.65"/>
<line x1="169.20" y1="303.10" x2="169.20" y2="198.00" stroke="#2a2a2a" stroke-width="1.3" />
<line x1="166.20" y1="303.10" x2="169.20" y2="303.10" stroke="#2a2a2a" stroke-width="1.1" />
<text x="163.10" y="306.20" font-size="8.6" text-anchor="end" fill="#2b2b2b" stroke="#2b2b2b" stroke-width="0.12" textLength="5.16" lengthAdjust="spacingAndGlyphs" >0</text>
<line x1="166.20" y1="277.58" x2="169.20" y2="277.58" stroke="#2a2a2a" stroke-width="1.1" />
<text x="163.10" y="280.67" font-size="8.6" text-anchor="end" fill="#2b2b2b" stroke="#2b2b2b" stroke-width="0.12" textLength="10.33" lengthAdjust="spacingAndGlyphs" >50</text>
<line x1="166.20" y1="252.05" x2="169.20" y2="252.05" stroke="#2a2a2a" stroke-width="1.1" />
<text x="163.10" y="255.15" font-size="8.6" text-anchor="end" fill="#2b2b2b" stroke="#2b2b2b" stroke-width="0.12" textLength="15.49" lengthAdjust="spacingAndGlyphs" >100</text>
<line x1="166.20" y1="226.53" x2="169.20" y2="226.53" stroke="#2a2a2a" stroke-width="1.1" />
<text x="163.10" y="229.62" font-size="8.6" text-anchor="end" fill="#2b2b2b" stroke="#2b2b2b" stroke-width="0.12" textLength="15.49" lengthAdjust="spacingAndGlyphs" >150</text>
<line x1="166.20" y1="201.00" x2="169.20" y2="201.00" stroke="#2a2a2a" stroke-width="1.1" />
<text x="163.10" y="204.10" font-size="8.6" text-anchor="end" fill="#2b2b2b" stroke="#2b2b2b" stroke-width="0.12" textLength="15.49" lengthAdjust="spacingAndGlyphs" >200</text>
<line x1="168.60" y1="303.10" x2="237.50" y2="303.10" stroke="#2a2a2a" stroke-width="1.3" />
<text transform="translate(141.40,250.40) rotate(-90)" font-size="9.3" text-anchor="middle" fill="#2b2b2b" stroke="#2b2b2b" stroke-width="0.4" word-spacing="1.3" textLength="56.8" lengthAdjust="spacingAndGlyphs">Caudal axis (mm)</text>
<rect x="199.05" y="199.55" width="1.9" height="1.9" fill="#2a2a2a"/>
<line x1="188.40" y1="213.10" x2="217.70" y2="210.00" stroke="#1c1c1c" stroke-width="0.72" />
<line x1="188.40" y1="222.70" x2="217.70" y2="225.70" stroke="#1c1c1c" stroke-width="0.72" />
<line x1="188.40" y1="265.50" x2="217.70" y2="270.00" stroke="#1c1c1c" stroke-width="0.72" />
<line x1="188.40" y1="266.40" x2="217.70" y2="270.40" stroke="#1c1c1c" stroke-width="0.72" />
<line x1="188.40" y1="257.60" x2="217.70" y2="261.50" stroke="#1c1c1c" stroke-width="0.72" />
<line x1="188.40" y1="242.00" x2="217.70" y2="245.33" stroke="#1c1c1c" stroke-width="0.72" />
<line x1="188.40" y1="242.71" x2="217.70" y2="243.00" stroke="#1c1c1c" stroke-width="0.72" />
<line x1="188.40" y1="243.42" x2="217.70" y2="243.78" stroke="#1c1c1c" stroke-width="0.72" />
<line x1="188.40" y1="244.13" x2="217.70" y2="246.89" stroke="#1c1c1c" stroke-width="0.72" />
<line x1="188.40" y1="244.84" x2="217.70" y2="247.67" stroke="#1c1c1c" stroke-width="0.72" />
<line x1="188.40" y1="245.56" x2="217.70" y2="246.11" stroke="#1c1c1c" stroke-width="0.72" />
<line x1="188.40" y1="246.27" x2="217.70" y2="244.56" stroke="#1c1c1c" stroke-width="0.72" />
<line x1="188.40" y1="246.98" x2="217.70" y2="252.33" stroke="#1c1c1c" stroke-width="0.72" />
<line x1="188.40" y1="247.69" x2="217.70" y2="250.00" stroke="#1c1c1c" stroke-width="0.72" />
<line x1="188.40" y1="248.40" x2="217.70" y2="250.78" stroke="#1c1c1c" stroke-width="0.72" />
<line x1="188.40" y1="249.11" x2="217.70" y2="253.89" stroke="#1c1c1c" stroke-width="0.72" />
<line x1="188.40" y1="249.82" x2="217.70" y2="248.44" stroke="#1c1c1c" stroke-width="0.72" />
<line x1="188.40" y1="250.53" x2="217.70" y2="254.67" stroke="#1c1c1c" stroke-width="0.72" />
<line x1="188.40" y1="251.24" x2="217.70" y2="249.22" stroke="#1c1c1c" stroke-width="0.72" />
<line x1="188.40" y1="251.96" x2="217.70" y2="257.00" stroke="#1c1c1c" stroke-width="0.72" />
<line x1="188.40" y1="252.67" x2="217.70" y2="251.56" stroke="#1c1c1c" stroke-width="0.72" />
<line x1="188.40" y1="253.38" x2="217.70" y2="253.11" stroke="#1c1c1c" stroke-width="0.72" />
<line x1="188.40" y1="254.09" x2="217.70" y2="255.44" stroke="#1c1c1c" stroke-width="0.72" />
<line x1="188.40" y1="254.80" x2="217.70" y2="256.22" stroke="#1c1c1c" stroke-width="0.72" />
<circle cx="188.40" cy="213.10" r="1.6" fill="#28588c" stroke="#142238" stroke-width="0.65"/>
<circle cx="188.40" cy="222.70" r="1.6" fill="#28588c" stroke="#142238" stroke-width="0.65"/>
<circle cx="188.40" cy="265.50" r="1.6" fill="#28588c" stroke="#142238" stroke-width="0.65"/>
<circle cx="188.40" cy="266.40" r="1.6" fill="#28588c" stroke="#142238" stroke-width="0.65"/>
<circle cx="188.40" cy="257.60" r="1.6" fill="#28588c" stroke="#142238" stroke-width="0.65"/>
<circle cx="188.40" cy="242.00" r="1.6" fill="#28588c" stroke="#142238" stroke-width="0.65"/>
<circle cx="188.40" cy="242.71" r="1.6" fill="#28588c" stroke="#142238" stroke-width="0.65"/>
<circle cx="188.40" cy="243.42" r="1.6" fill="#28588c" stroke="#142238" stroke-width="0.65"/>
<circle cx="188.40" cy="244.13" r="1.6" fill="#28588c" stroke="#142238" stroke-width="0.65"/>
<circle cx="188.40" cy="244.84" r="1.6" fill="#28588c" stroke="#142238" stroke-width="0.65"/>
<circle cx="188.40" cy="245.56" r="1.6" fill="#28588c" stroke="#142238" stroke-width="0.65"/>
<circle cx="188.40" cy="246.27" r="1.6" fill="#28588c" stroke="#142238" stroke-width="0.65"/>
<circle cx="188.40" cy="246.98" r="1.6" fill="#28588c" stroke="#142238" stroke-width="0.65"/>
<circle cx="188.40" cy="247.69" r="1.6" fill="#28588c" stroke="#142238" stroke-width="0.65"/>
<circle cx="188.40" cy="248.40" r="1.6" fill="#28588c" stroke="#142238" stroke-width="0.65"/>
<circle cx="188.40" cy="249.11" r="1.6" fill="#28588c" stroke="#142238" stroke-width="0.65"/>
<circle cx="188.40" cy="249.82" r="1.6" fill="#28588c" stroke="#142238" stroke-width="0.65"/>
<circle cx="188.40" cy="250.53" r="1.6" fill="#28588c" stroke="#142238" stroke-width="0.65"/>
<circle cx="188.40" cy="251.24" r="1.6" fill="#28588c" stroke="#142238" stroke-width="0.65"/>
<circle cx="188.40" cy="251.96" r="1.6" fill="#28588c" stroke="#142238" stroke-width="0.65"/>
<circle cx="188.40" cy="252.67" r="1.6" fill="#28588c" stroke="#142238" stroke-width="0.65"/>
<circle cx="188.40" cy="253.38" r="1.6" fill="#28588c" stroke="#142238" stroke-width="0.65"/>
<circle cx="188.40" cy="254.09" r="1.6" fill="#28588c" stroke="#142238" stroke-width="0.65"/>
<circle cx="188.40" cy="254.80" r="1.6" fill="#28588c" stroke="#142238" stroke-width="0.65"/>
<circle cx="217.70" cy="210.00" r="1.6" fill="#9c1a40" stroke="#3a0916" stroke-width="0.65"/>
<circle cx="217.70" cy="225.70" r="1.6" fill="#9c1a40" stroke="#3a0916" stroke-width="0.65"/>
<circle cx="217.70" cy="270.00" r="1.6" fill="#9c1a40" stroke="#3a0916" stroke-width="0.65"/>
<circle cx="217.70" cy="270.40" r="1.6" fill="#9c1a40" stroke="#3a0916" stroke-width="0.65"/>
<circle cx="217.70" cy="261.50" r="1.6" fill="#9c1a40" stroke="#3a0916" stroke-width="0.65"/>
<circle cx="217.70" cy="245.33" r="1.6" fill="#9c1a40" stroke="#3a0916" stroke-width="0.65"/>
<circle cx="217.70" cy="243.00" r="1.6" fill="#9c1a40" stroke="#3a0916" stroke-width="0.65"/>
<circle cx="217.70" cy="243.78" r="1.6" fill="#9c1a40" stroke="#3a0916" stroke-width="0.65"/>
<circle cx="217.70" cy="246.89" r="1.6" fill="#9c1a40" stroke="#3a0916" stroke-width="0.65"/>
<circle cx="217.70" cy="247.67" r="1.6" fill="#9c1a40" stroke="#3a0916" stroke-width="0.65"/>
<circle cx="217.70" cy="246.11" r="1.6" fill="#9c1a40" stroke="#3a0916" stroke-width="0.65"/>
<circle cx="217.70" cy="244.56" r="1.6" fill="#9c1a40" stroke="#3a0916" stroke-width="0.65"/>
<circle cx="217.70" cy="252.33" r="1.6" fill="#9c1a40" stroke="#3a0916" stroke-width="0.65"/>
<circle cx="217.70" cy="250.00" r="1.6" fill="#9c1a40" stroke="#3a0916" stroke-width="0.65"/>
<circle cx="217.70" cy="250.78" r="1.6" fill="#9c1a40" stroke="#3a0916" stroke-width="0.65"/>
<circle cx="217.70" cy="253.89" r="1.6" fill="#9c1a40" stroke="#3a0916" stroke-width="0.65"/>
<circle cx="217.70" cy="248.44" r="1.6" fill="#9c1a40" stroke="#3a0916" stroke-width="0.65"/>
<circle cx="217.70" cy="254.67" r="1.6" fill="#9c1a40" stroke="#3a0916" stroke-width="0.65"/>
<circle cx="217.70" cy="249.22" r="1.6" fill="#9c1a40" stroke="#3a0916" stroke-width="0.65"/>
<circle cx="217.70" cy="257.00" r="1.6" fill="#9c1a40" stroke="#3a0916" stroke-width="0.65"/>
<circle cx="217.70" cy="251.56" r="1.6" fill="#9c1a40" stroke="#3a0916" stroke-width="0.65"/>
<circle cx="217.70" cy="253.11" r="1.6" fill="#9c1a40" stroke="#3a0916" stroke-width="0.65"/>
<circle cx="217.70" cy="255.44" r="1.6" fill="#9c1a40" stroke="#3a0916" stroke-width="0.65"/>
<circle cx="217.70" cy="256.22" r="1.6" fill="#9c1a40" stroke="#3a0916" stroke-width="0.65"/>
<line x1="291.10" y1="303.10" x2="291.10" y2="198.00" stroke="#2a2a2a" stroke-width="1.3" />
<line x1="288.10" y1="303.10" x2="291.10" y2="303.10" stroke="#2a2a2a" stroke-width="1.1" />
<text x="285.00" y="306.20" font-size="8.6" text-anchor="end" fill="#2b2b2b" stroke="#2b2b2b" stroke-width="0.12" textLength="5.16" lengthAdjust="spacingAndGlyphs" >0</text>
<line x1="288.10" y1="269.07" x2="291.10" y2="269.07" stroke="#2a2a2a" stroke-width="1.1" />
<text x="285.00" y="272.16" font-size="8.6" text-anchor="end" fill="#2b2b2b" stroke="#2b2b2b" stroke-width="0.12" textLength="10.33" lengthAdjust="spacingAndGlyphs" >50</text>
<line x1="288.10" y1="235.03" x2="291.10" y2="235.03" stroke="#2a2a2a" stroke-width="1.1" />
<text x="285.00" y="238.13" font-size="8.6" text-anchor="end" fill="#2b2b2b" stroke="#2b2b2b" stroke-width="0.12" textLength="15.49" lengthAdjust="spacingAndGlyphs" >100</text>
<line x1="288.10" y1="201.00" x2="291.10" y2="201.00" stroke="#2a2a2a" stroke-width="1.1" />
<text x="285.00" y="204.10" font-size="8.6" text-anchor="end" fill="#2b2b2b" stroke="#2b2b2b" stroke-width="0.12" textLength="15.49" lengthAdjust="spacingAndGlyphs" >150</text>
<line x1="290.50" y1="303.10" x2="359.50" y2="303.10" stroke="#2a2a2a" stroke-width="1.3" />
<text transform="translate(263.00,250.90) rotate(-90)" font-size="9.3" text-anchor="middle" fill="#2b2b2b" stroke="#2b2b2b" stroke-width="0.4" word-spacing="1.3" textLength="84.2" lengthAdjust="spacingAndGlyphs">Anteroposterior axis (mm)</text>
<rect x="324.55" y="202.35" width="1.9" height="1.9" fill="#2a2a2a"/>
<line x1="310.30" y1="229.60" x2="339.60" y2="236.00" stroke="#1c1c1c" stroke-width="0.72" />
<line x1="310.30" y1="242.70" x2="339.60" y2="271.80" stroke="#1c1c1c" stroke-width="0.72" />
<line x1="310.30" y1="244.40" x2="339.60" y2="262.50" stroke="#1c1c1c" stroke-width="0.72" />
<line x1="310.30" y1="246.10" x2="339.60" y2="260.60" stroke="#1c1c1c" stroke-width="0.72" />
<line x1="310.30" y1="254.70" x2="339.60" y2="258.50" stroke="#1c1c1c" stroke-width="0.72" />
<line x1="310.30" y1="259.50" x2="339.60" y2="266.00" stroke="#1c1c1c" stroke-width="0.72" />
<line x1="310.30" y1="262.00" x2="339.60" y2="264.60" stroke="#1c1c1c" stroke-width="0.72" />
<line x1="310.30" y1="264.60" x2="339.60" y2="275.00" stroke="#1c1c1c" stroke-width="0.72" />
<line x1="310.30" y1="270.20" x2="339.60" y2="257.80" stroke="#1c1c1c" stroke-width="0.72" />
<line x1="310.30" y1="271.21" x2="339.60" y2="265.85" stroke="#1c1c1c" stroke-width="0.72" />
<line x1="310.30" y1="272.21" x2="339.60" y2="261.83" stroke="#1c1c1c" stroke-width="0.72" />
<line x1="310.30" y1="273.22" x2="339.60" y2="273.91" stroke="#1c1c1c" stroke-width="0.72" />
<line x1="310.30" y1="274.23" x2="339.60" y2="267.87" stroke="#1c1c1c" stroke-width="0.72" />
<line x1="310.30" y1="275.23" x2="339.60" y2="263.84" stroke="#1c1c1c" stroke-width="0.72" />
<line x1="310.30" y1="276.24" x2="339.60" y2="277.93" stroke="#1c1c1c" stroke-width="0.72" />
<line x1="310.30" y1="277.25" x2="339.60" y2="281.96" stroke="#1c1c1c" stroke-width="0.72" />
<line x1="310.30" y1="278.25" x2="339.60" y2="259.81" stroke="#1c1c1c" stroke-width="0.72" />
<line x1="310.30" y1="279.26" x2="339.60" y2="269.88" stroke="#1c1c1c" stroke-width="0.72" />
<line x1="310.30" y1="280.27" x2="339.60" y2="283.97" stroke="#1c1c1c" stroke-width="0.72" />
<line x1="310.30" y1="281.27" x2="339.60" y2="288.00" stroke="#1c1c1c" stroke-width="0.72" />
<line x1="310.30" y1="282.28" x2="339.60" y2="279.95" stroke="#1c1c1c" stroke-width="0.72" />
<line x1="310.30" y1="283.29" x2="339.60" y2="285.99" stroke="#1c1c1c" stroke-width="0.72" />
<line x1="310.30" y1="284.29" x2="339.60" y2="271.89" stroke="#1c1c1c" stroke-width="0.72" />
<line x1="310.30" y1="285.30" x2="339.60" y2="275.92" stroke="#1c1c1c" stroke-width="0.72" />
<circle cx="310.30" cy="229.60" r="1.6" fill="#28588c" stroke="#142238" stroke-width="0.65"/>
<circle cx="310.30" cy="242.70" r="1.6" fill="#28588c" stroke="#142238" stroke-width="0.65"/>
<circle cx="310.30" cy="244.40" r="1.6" fill="#28588c" stroke="#142238" stroke-width="0.65"/>
<circle cx="310.30" cy="246.10" r="1.6" fill="#28588c" stroke="#142238" stroke-width="0.65"/>
<circle cx="310.30" cy="254.70" r="1.6" fill="#28588c" stroke="#142238" stroke-width="0.65"/>
<circle cx="310.30" cy="259.50" r="1.6" fill="#28588c" stroke="#142238" stroke-width="0.65"/>
<circle cx="310.30" cy="262.00" r="1.6" fill="#28588c" stroke="#142238" stroke-width="0.65"/>
<circle cx="310.30" cy="264.60" r="1.6" fill="#28588c" stroke="#142238" stroke-width="0.65"/>
<circle cx="310.30" cy="270.20" r="1.6" fill="#28588c" stroke="#142238" stroke-width="0.65"/>
<circle cx="310.30" cy="271.21" r="1.6" fill="#28588c" stroke="#142238" stroke-width="0.65"/>
<circle cx="310.30" cy="272.21" r="1.6" fill="#28588c" stroke="#142238" stroke-width="0.65"/>
<circle cx="310.30" cy="273.22" r="1.6" fill="#28588c" stroke="#142238" stroke-width="0.65"/>
<circle cx="310.30" cy="274.23" r="1.6" fill="#28588c" stroke="#142238" stroke-width="0.65"/>
<circle cx="310.30" cy="275.23" r="1.6" fill="#28588c" stroke="#142238" stroke-width="0.65"/>
<circle cx="310.30" cy="276.24" r="1.6" fill="#28588c" stroke="#142238" stroke-width="0.65"/>
<circle cx="310.30" cy="277.25" r="1.6" fill="#28588c" stroke="#142238" stroke-width="0.65"/>
<circle cx="310.30" cy="278.25" r="1.6" fill="#28588c" stroke="#142238" stroke-width="0.65"/>
<circle cx="310.30" cy="279.26" r="1.6" fill="#28588c" stroke="#142238" stroke-width="0.65"/>
<circle cx="310.30" cy="280.27" r="1.6" fill="#28588c" stroke="#142238" stroke-width="0.65"/>
<circle cx="310.30" cy="281.27" r="1.6" fill="#28588c" stroke="#142238" stroke-width="0.65"/>
<circle cx="310.30" cy="282.28" r="1.6" fill="#28588c" stroke="#142238" stroke-width="0.65"/>
<circle cx="310.30" cy="283.29" r="1.6" fill="#28588c" stroke="#142238" stroke-width="0.65"/>
<circle cx="310.30" cy="284.29" r="1.6" fill="#28588c" stroke="#142238" stroke-width="0.65"/>
<circle cx="310.30" cy="285.30" r="1.6" fill="#28588c" stroke="#142238" stroke-width="0.65"/>
<circle cx="339.60" cy="236.00" r="1.6" fill="#9c1a40" stroke="#3a0916" stroke-width="0.65"/>
<circle cx="339.60" cy="271.80" r="1.6" fill="#9c1a40" stroke="#3a0916" stroke-width="0.65"/>
<circle cx="339.60" cy="262.50" r="1.6" fill="#9c1a40" stroke="#3a0916" stroke-width="0.65"/>
<circle cx="339.60" cy="260.60" r="1.6" fill="#9c1a40" stroke="#3a0916" stroke-width="0.65"/>
<circle cx="339.60" cy="258.50" r="1.6" fill="#9c1a40" stroke="#3a0916" stroke-width="0.65"/>
<circle cx="339.60" cy="266.00" r="1.6" fill="#9c1a40" stroke="#3a0916" stroke-width="0.65"/>
<circle cx="339.60" cy="264.60" r="1.6" fill="#9c1a40" stroke="#3a0916" stroke-width="0.65"/>
<circle cx="339.60" cy="275.00" r="1.6" fill="#9c1a40" stroke="#3a0916" stroke-width="0.65"/>
<circle cx="339.60" cy="257.80" r="1.6" fill="#9c1a40" stroke="#3a0916" stroke-width="0.65"/>
<circle cx="339.60" cy="265.85" r="1.6" fill="#9c1a40" stroke="#3a0916" stroke-width="0.65"/>
<circle cx="339.60" cy="261.83" r="1.6" fill="#9c1a40" stroke="#3a0916" stroke-width="0.65"/>
<circle cx="339.60" cy="273.91" r="1.6" fill="#9c1a40" stroke="#3a0916" stroke-width="0.65"/>
<circle cx="339.60" cy="267.87" r="1.6" fill="#9c1a40" stroke="#3a0916" stroke-width="0.65"/>
<circle cx="339.60" cy="263.84" r="1.6" fill="#9c1a40" stroke="#3a0916" stroke-width="0.65"/>
<circle cx="339.60" cy="277.93" r="1.6" fill="#9c1a40" stroke="#3a0916" stroke-width="0.65"/>
<circle cx="339.60" cy="281.96" r="1.6" fill="#9c1a40" stroke="#3a0916" stroke-width="0.65"/>
<circle cx="339.60" cy="259.81" r="1.6" fill="#9c1a40" stroke="#3a0916" stroke-width="0.65"/>
<circle cx="339.60" cy="269.88" r="1.6" fill="#9c1a40" stroke="#3a0916" stroke-width="0.65"/>
<circle cx="339.60" cy="283.97" r="1.6" fill="#9c1a40" stroke="#3a0916" stroke-width="0.65"/>
<circle cx="339.60" cy="288.00" r="1.6" fill="#9c1a40" stroke="#3a0916" stroke-width="0.65"/>
<circle cx="339.60" cy="279.95" r="1.6" fill="#9c1a40" stroke="#3a0916" stroke-width="0.65"/>
<circle cx="339.60" cy="285.99" r="1.6" fill="#9c1a40" stroke="#3a0916" stroke-width="0.65"/>
<circle cx="339.60" cy="271.89" r="1.6" fill="#9c1a40" stroke="#3a0916" stroke-width="0.65"/>
<circle cx="339.60" cy="275.92" r="1.6" fill="#9c1a40" stroke="#3a0916" stroke-width="0.65"/>
<line x1="432.20" y1="303.10" x2="432.20" y2="198.00" stroke="#2a2a2a" stroke-width="1.3" />
<line x1="429.20" y1="303.10" x2="432.20" y2="303.10" stroke="#2a2a2a" stroke-width="1.1" />
<text x="426.10" y="306.20" font-size="8.6" text-anchor="end" fill="#2b2b2b" stroke="#2b2b2b" stroke-width="0.12" textLength="5.16" lengthAdjust="spacingAndGlyphs" >0</text>
<line x1="429.20" y1="277.58" x2="432.20" y2="277.58" stroke="#2a2a2a" stroke-width="1.1" />
<text x="426.10" y="280.67" font-size="8.6" text-anchor="end" fill="#2b2b2b" stroke="#2b2b2b" stroke-width="0.12" textLength="10.33" lengthAdjust="spacingAndGlyphs" >50</text>
<line x1="429.20" y1="252.05" x2="432.20" y2="252.05" stroke="#2a2a2a" stroke-width="1.1" />
<text x="426.10" y="255.15" font-size="8.6" text-anchor="end" fill="#2b2b2b" stroke="#2b2b2b" stroke-width="0.12" textLength="15.49" lengthAdjust="spacingAndGlyphs" >100</text>
<line x1="429.20" y1="226.53" x2="432.20" y2="226.53" stroke="#2a2a2a" stroke-width="1.1" />
<text x="426.10" y="229.62" font-size="8.6" text-anchor="end" fill="#2b2b2b" stroke="#2b2b2b" stroke-width="0.12" textLength="15.49" lengthAdjust="spacingAndGlyphs" >150</text>
<line x1="429.20" y1="201.00" x2="432.20" y2="201.00" stroke="#2a2a2a" stroke-width="1.1" />
<text x="426.10" y="204.10" font-size="8.6" text-anchor="end" fill="#2b2b2b" stroke="#2b2b2b" stroke-width="0.12" textLength="15.49" lengthAdjust="spacingAndGlyphs" >200</text>
<line x1="431.60" y1="303.10" x2="500.00" y2="303.10" stroke="#2a2a2a" stroke-width="1.3" />
<text transform="translate(404.30,250.60) rotate(-90)" font-size="9.3" text-anchor="middle" fill="#2b2b2b" stroke="#2b2b2b" stroke-width="0.4" word-spacing="1.3" textLength="68.4" lengthAdjust="spacingAndGlyphs">Transverse axis (mm)</text>
<rect x="462.80" y="198.55" width="1.9" height="1.9" fill="#2a2a2a"/>
<line x1="451.40" y1="227.00" x2="480.70" y2="231.30" stroke="#1c1c1c" stroke-width="0.72" />
<line x1="451.40" y1="233.40" x2="480.70" y2="250.00" stroke="#1c1c1c" stroke-width="0.72" />
<line x1="451.40" y1="234.10" x2="480.70" y2="253.00" stroke="#1c1c1c" stroke-width="0.72" />
<line x1="451.40" y1="282.70" x2="480.70" y2="288.00" stroke="#1c1c1c" stroke-width="0.72" />
<line x1="451.40" y1="284.00" x2="480.70" y2="271.20" stroke="#1c1c1c" stroke-width="0.72" />
<line x1="451.40" y1="292.60" x2="480.70" y2="294.20" stroke="#1c1c1c" stroke-width="0.72" />
<line x1="451.40" y1="275.00" x2="480.70" y2="276.00" stroke="#1c1c1c" stroke-width="0.72" />
<line x1="451.40" y1="273.00" x2="480.70" y2="278.80" stroke="#1c1c1c" stroke-width="0.72" />
<line x1="451.40" y1="250.70" x2="480.70" y2="254.26" stroke="#1c1c1c" stroke-width="0.72" />
<line x1="451.40" y1="252.05" x2="480.70" y2="249.64" stroke="#1c1c1c" stroke-width="0.72" />
<line x1="451.40" y1="253.41" x2="480.70" y2="252.72" stroke="#1c1c1c" stroke-width="0.72" />
<line x1="451.40" y1="254.76" x2="480.70" y2="248.10" stroke="#1c1c1c" stroke-width="0.72" />
<line x1="451.40" y1="256.11" x2="480.70" y2="255.80" stroke="#1c1c1c" stroke-width="0.72" />
<line x1="451.40" y1="257.47" x2="480.70" y2="261.96" stroke="#1c1c1c" stroke-width="0.72" />
<line x1="451.40" y1="258.82" x2="480.70" y2="260.42" stroke="#1c1c1c" stroke-width="0.72" />
<line x1="451.40" y1="260.17" x2="480.70" y2="265.04" stroke="#1c1c1c" stroke-width="0.72" />
<line x1="451.40" y1="261.53" x2="480.70" y2="263.50" stroke="#1c1c1c" stroke-width="0.72" />
<line x1="451.40" y1="262.88" x2="480.70" y2="269.66" stroke="#1c1c1c" stroke-width="0.72" />
<line x1="451.40" y1="264.23" x2="480.70" y2="258.88" stroke="#1c1c1c" stroke-width="0.72" />
<line x1="451.40" y1="265.59" x2="480.70" y2="266.58" stroke="#1c1c1c" stroke-width="0.72" />
<line x1="451.40" y1="266.94" x2="480.70" y2="268.12" stroke="#1c1c1c" stroke-width="0.72" />
<line x1="451.40" y1="268.29" x2="480.70" y2="257.34" stroke="#1c1c1c" stroke-width="0.72" />
<line x1="451.40" y1="269.65" x2="480.70" y2="271.20" stroke="#1c1c1c" stroke-width="0.72" />
<line x1="451.40" y1="271.00" x2="480.70" y2="251.18" stroke="#1c1c1c" stroke-width="0.72" />
<circle cx="451.40" cy="227.00" r="1.6" fill="#28588c" stroke="#142238" stroke-width="0.65"/>
<circle cx="451.40" cy="233.40" r="1.6" fill="#28588c" stroke="#142238" stroke-width="0.65"/>
<circle cx="451.40" cy="234.10" r="1.6" fill="#28588c" stroke="#142238" stroke-width="0.65"/>
<circle cx="451.40" cy="282.70" r="1.6" fill="#28588c" stroke="#142238" stroke-width="0.65"/>
<circle cx="451.40" cy="284.00" r="1.6" fill="#28588c" stroke="#142238" stroke-width="0.65"/>
<circle cx="451.40" cy="292.60" r="1.6" fill="#28588c" stroke="#142238" stroke-width="0.65"/>
<circle cx="451.40" cy="275.00" r="1.6" fill="#28588c" stroke="#142238" stroke-width="0.65"/>
<circle cx="451.40" cy="273.00" r="1.6" fill="#28588c" stroke="#142238" stroke-width="0.65"/>
<circle cx="451.40" cy="250.70" r="1.6" fill="#28588c" stroke="#142238" stroke-width="0.65"/>
<circle cx="451.40" cy="252.05" r="1.6" fill="#28588c" stroke="#142238" stroke-width="0.65"/>
<circle cx="451.40" cy="253.41" r="1.6" fill="#28588c" stroke="#142238" stroke-width="0.65"/>
<circle cx="451.40" cy="254.76" r="1.6" fill="#28588c" stroke="#142238" stroke-width="0.65"/>
<circle cx="451.40" cy="256.11" r="1.6" fill="#28588c" stroke="#142238" stroke-width="0.65"/>
<circle cx="451.40" cy="257.47" r="1.6" fill="#28588c" stroke="#142238" stroke-width="0.65"/>
<circle cx="451.40" cy="258.82" r="1.6" fill="#28588c" stroke="#142238" stroke-width="0.65"/>
<circle cx="451.40" cy="260.17" r="1.6" fill="#28588c" stroke="#142238" stroke-width="0.65"/>
<circle cx="451.40" cy="261.53" r="1.6" fill="#28588c" stroke="#142238" stroke-width="0.65"/>
<circle cx="451.40" cy="262.88" r="1.6" fill="#28588c" stroke="#142238" stroke-width="0.65"/>
<circle cx="451.40" cy="264.23" r="1.6" fill="#28588c" stroke="#142238" stroke-width="0.65"/>
<circle cx="451.40" cy="265.59" r="1.6" fill="#28588c" stroke="#142238" stroke-width="0.65"/>
<circle cx="451.40" cy="266.94" r="1.6" fill="#28588c" stroke="#142238" stroke-width="0.65"/>
<circle cx="451.40" cy="268.29" r="1.6" fill="#28588c" stroke="#142238" stroke-width="0.65"/>
<circle cx="451.40" cy="269.65" r="1.6" fill="#28588c" stroke="#142238" stroke-width="0.65"/>
<circle cx="451.40" cy="271.00" r="1.6" fill="#28588c" stroke="#142238" stroke-width="0.65"/>
<circle cx="480.70" cy="231.30" r="1.6" fill="#9c1a40" stroke="#3a0916" stroke-width="0.65"/>
<circle cx="480.70" cy="250.00" r="1.6" fill="#9c1a40" stroke="#3a0916" stroke-width="0.65"/>
<circle cx="480.70" cy="253.00" r="1.6" fill="#9c1a40" stroke="#3a0916" stroke-width="0.65"/>
<circle cx="480.70" cy="288.00" r="1.6" fill="#9c1a40" stroke="#3a0916" stroke-width="0.65"/>
<circle cx="480.70" cy="271.20" r="1.6" fill="#9c1a40" stroke="#3a0916" stroke-width="0.65"/>
<circle cx="480.70" cy="294.20" r="1.6" fill="#9c1a40" stroke="#3a0916" stroke-width="0.65"/>
<circle cx="480.70" cy="276.00" r="1.6" fill="#9c1a40" stroke="#3a0916" stroke-width="0.65"/>
<circle cx="480.70" cy="278.80" r="1.6" fill="#9c1a40" stroke="#3a0916" stroke-width="0.65"/>
<circle cx="480.70" cy="254.26" r="1.6" fill="#9c1a40" stroke="#3a0916" stroke-width="0.65"/>
<circle cx="480.70" cy="249.64" r="1.6" fill="#9c1a40" stroke="#3a0916" stroke-width="0.65"/>
<circle cx="480.70" cy="252.72" r="1.6" fill="#9c1a40" stroke="#3a0916" stroke-width="0.65"/>
<circle cx="480.70" cy="248.10" r="1.6" fill="#9c1a40" stroke="#3a0916" stroke-width="0.65"/>
<circle cx="480.70" cy="255.80" r="1.6" fill="#9c1a40" stroke="#3a0916" stroke-width="0.65"/>
<circle cx="480.70" cy="261.96" r="1.6" fill="#9c1a40" stroke="#3a0916" stroke-width="0.65"/>
<circle cx="480.70" cy="260.42" r="1.6" fill="#9c1a40" stroke="#3a0916" stroke-width="0.65"/>
<circle cx="480.70" cy="265.04" r="1.6" fill="#9c1a40" stroke="#3a0916" stroke-width="0.65"/>
<circle cx="480.70" cy="263.50" r="1.6" fill="#9c1a40" stroke="#3a0916" stroke-width="0.65"/>
<circle cx="480.70" cy="269.66" r="1.6" fill="#9c1a40" stroke="#3a0916" stroke-width="0.65"/>
<circle cx="480.70" cy="258.88" r="1.6" fill="#9c1a40" stroke="#3a0916" stroke-width="0.65"/>
<circle cx="480.70" cy="266.58" r="1.6" fill="#9c1a40" stroke="#3a0916" stroke-width="0.65"/>
<circle cx="480.70" cy="268.12" r="1.6" fill="#9c1a40" stroke="#3a0916" stroke-width="0.65"/>
<circle cx="480.70" cy="257.34" r="1.6" fill="#9c1a40" stroke="#3a0916" stroke-width="0.65"/>
<circle cx="480.70" cy="271.20" r="1.6" fill="#9c1a40" stroke="#3a0916" stroke-width="0.65"/>
<circle cx="480.70" cy="251.18" r="1.6" fill="#9c1a40" stroke="#3a0916" stroke-width="0.65"/>
<line x1="47.40" y1="363.77" x2="115.50" y2="363.77" stroke="#606060" stroke-width="1.5" stroke-dasharray="1.7 1.75"/>
<line x1="47.40" y1="431.70" x2="47.40" y2="326.80" stroke="#2a2a2a" stroke-width="1.3" />
<line x1="44.40" y1="431.70" x2="47.40" y2="431.70" stroke="#2a2a2a" stroke-width="1.1" />
<text x="41.30" y="434.80" font-size="8.6" text-anchor="end" fill="#2b2b2b" stroke="#2b2b2b" stroke-width="0.12" textLength="5.16" lengthAdjust="spacingAndGlyphs" >0</text>
<line x1="44.40" y1="397.73" x2="47.40" y2="397.73" stroke="#2a2a2a" stroke-width="1.1" />
<text x="41.30" y="400.83" font-size="8.6" text-anchor="end" fill="#2b2b2b" stroke="#2b2b2b" stroke-width="0.12" textLength="10.33" lengthAdjust="spacingAndGlyphs" >50</text>
<line x1="44.40" y1="363.77" x2="47.40" y2="363.77" stroke="#2a2a2a" stroke-width="1.1" />
<text x="41.30" y="366.86" font-size="8.6" text-anchor="end" fill="#2b2b2b" stroke="#2b2b2b" stroke-width="0.12" textLength="15.49" lengthAdjust="spacingAndGlyphs" >100</text>
<line x1="44.40" y1="329.80" x2="47.40" y2="329.80" stroke="#2a2a2a" stroke-width="1.1" />
<text x="41.30" y="332.90" font-size="8.6" text-anchor="end" fill="#2b2b2b" stroke="#2b2b2b" stroke-width="0.12" textLength="15.49" lengthAdjust="spacingAndGlyphs" >150</text>
<line x1="46.80" y1="431.70" x2="115.50" y2="431.70" stroke="#2a2a2a" stroke-width="1.3" />
<text transform="translate(19.50,379.40) rotate(-90)" font-size="9.3" text-anchor="middle" fill="#2b2b2b" stroke="#2b2b2b" stroke-width="0.4" word-spacing="1.3" textLength="63.6" lengthAdjust="spacingAndGlyphs">SPL Vol change (%)</text>
<circle cx="81.50" cy="345.30" r="1.9" fill="#7e1430" stroke="#34070f" stroke-width="0.7"/>
<circle cx="73.70" cy="357.60" r="1.9" fill="#7e1430" stroke="#34070f" stroke-width="0.7"/>
<circle cx="78.80" cy="360.40" r="1.9" fill="#7e1430" stroke="#34070f" stroke-width="0.7"/>
<circle cx="83.90" cy="357.90" r="1.9" fill="#7e1430" stroke="#34070f" stroke-width="0.7"/>
<circle cx="89.10" cy="356.80" r="1.9" fill="#7e1430" stroke="#34070f" stroke-width="0.7"/>
<circle cx="91.90" cy="362.40" r="1.9" fill="#7e1430" stroke="#34070f" stroke-width="0.7"/>
<circle cx="68.40" cy="366.00" r="1.9" fill="#7e1430" stroke="#34070f" stroke-width="0.7"/>
<circle cx="73.40" cy="367.20" r="1.9" fill="#7e1430" stroke="#34070f" stroke-width="0.7"/>
<circle cx="76.20" cy="370.00" r="1.9" fill="#7e1430" stroke="#34070f" stroke-width="0.7"/>
<circle cx="81.30" cy="367.50" r="1.9" fill="#7e1430" stroke="#34070f" stroke-width="0.7"/>
<circle cx="86.60" cy="366.90" r="1.9" fill="#7e1430" stroke="#34070f" stroke-width="0.7"/>
<circle cx="81.30" cy="374.20" r="1.9" fill="#7e1430" stroke="#34070f" stroke-width="0.7"/>
<circle cx="86.60" cy="373.10" r="1.9" fill="#7e1430" stroke="#34070f" stroke-width="0.7"/>
<circle cx="68.40" cy="376.80" r="1.9" fill="#7e1430" stroke="#34070f" stroke-width="0.7"/>
<circle cx="73.70" cy="378.10" r="1.9" fill="#7e1430" stroke="#34070f" stroke-width="0.7"/>
<circle cx="78.80" cy="379.20" r="1.9" fill="#7e1430" stroke="#34070f" stroke-width="0.7"/>
<circle cx="89.10" cy="378.40" r="1.9" fill="#7e1430" stroke="#34070f" stroke-width="0.7"/>
<circle cx="94.40" cy="377.80" r="1.9" fill="#7e1430" stroke="#34070f" stroke-width="0.7"/>
<circle cx="83.90" cy="381.20" r="1.9" fill="#7e1430" stroke="#34070f" stroke-width="0.7"/>
<circle cx="76.20" cy="383.70" r="1.9" fill="#7e1430" stroke="#34070f" stroke-width="0.7"/>
<circle cx="86.60" cy="384.60" r="1.9" fill="#7e1430" stroke="#34070f" stroke-width="0.7"/>
<circle cx="81.30" cy="388.00" r="1.9" fill="#7e1430" stroke="#34070f" stroke-width="0.7"/>
<circle cx="81.30" cy="396.60" r="1.9" fill="#7e1430" stroke="#34070f" stroke-width="0.7"/>
<circle cx="83.90" cy="398.30" r="1.9" fill="#7e1430" stroke="#34070f" stroke-width="0.7"/>
<circle cx="78.80" cy="403.90" r="1.9" fill="#7e1430" stroke="#34070f" stroke-width="0.7"/>
<line x1="169.20" y1="380.75" x2="236.50" y2="380.75" stroke="#606060" stroke-width="1.5" stroke-dasharray="1.7 1.75"/>
<line x1="169.20" y1="431.70" x2="169.20" y2="326.80" stroke="#2a2a2a" stroke-width="1.3" />
<line x1="166.20" y1="431.70" x2="169.20" y2="431.70" stroke="#2a2a2a" stroke-width="1.1" />
<text x="163.10" y="434.80" font-size="8.6" text-anchor="end" fill="#2b2b2b" stroke="#2b2b2b" stroke-width="0.12" textLength="10.33" lengthAdjust="spacingAndGlyphs" >80</text>
<line x1="166.20" y1="406.23" x2="169.20" y2="406.23" stroke="#2a2a2a" stroke-width="1.1" />
<text x="163.10" y="409.32" font-size="8.6" text-anchor="end" fill="#2b2b2b" stroke="#2b2b2b" stroke-width="0.12" textLength="10.33" lengthAdjust="spacingAndGlyphs" >90</text>
<line x1="166.20" y1="380.75" x2="169.20" y2="380.75" stroke="#2a2a2a" stroke-width="1.1" />
<text x="163.10" y="383.85" font-size="8.6" text-anchor="end" fill="#2b2b2b" stroke="#2b2b2b" stroke-width="0.12" textLength="15.49" lengthAdjust="spacingAndGlyphs" >100</text>
<line x1="166.20" y1="355.27" x2="169.20" y2="355.27" stroke="#2a2a2a" stroke-width="1.1" />
<text x="163.10" y="358.37" font-size="8.6" text-anchor="end" fill="#2b2b2b" stroke="#2b2b2b" stroke-width="0.12" textLength="14.81" lengthAdjust="spacingAndGlyphs" >110</text>
<line x1="166.20" y1="329.80" x2="169.20" y2="329.80" stroke="#2a2a2a" stroke-width="1.1" />
<text x="163.10" y="332.90" font-size="8.6" text-anchor="end" fill="#2b2b2b" stroke="#2b2b2b" stroke-width="0.12" textLength="15.49" lengthAdjust="spacingAndGlyphs" >120</text>
<line x1="168.60" y1="431.70" x2="236.75" y2="431.70" stroke="#2a2a2a" stroke-width="1.3" />
<text transform="translate(141.40,379.45) rotate(-90)" font-size="9.3" text-anchor="middle" fill="#2b2b2b" stroke="#2b2b2b" stroke-width="0.4" word-spacing="1.3" textLength="75.3" lengthAdjust="spacingAndGlyphs">Caudal axis change (%)</text>
<circle cx="203.20" cy="354.20" r="1.9" fill="#7e1430" stroke="#34070f" stroke-width="0.7"/>
<circle cx="203.20" cy="362.40" r="1.9" fill="#7e1430" stroke="#34070f" stroke-width="0.7"/>
<circle cx="205.80" cy="368.00" r="1.9" fill="#7e1430" stroke="#34070f" stroke-width="0.7"/>
<circle cx="200.50" cy="372.10" r="1.9" fill="#7e1430" stroke="#34070f" stroke-width="0.7"/>
<circle cx="200.50" cy="380.50" r="1.9" fill="#7e1430" stroke="#34070f" stroke-width="0.7"/>
<circle cx="203.20" cy="380.00" r="1.9" fill="#7e1430" stroke="#34070f" stroke-width="0.7"/>
<circle cx="205.80" cy="380.80" r="1.9" fill="#7e1430" stroke="#34070f" stroke-width="0.7"/>
<circle cx="192.90" cy="384.10" r="1.9" fill="#7e1430" stroke="#34070f" stroke-width="0.7"/>
<circle cx="208.30" cy="384.20" r="1.9" fill="#7e1430" stroke="#34070f" stroke-width="0.7"/>
<circle cx="213.60" cy="383.10" r="1.9" fill="#7e1430" stroke="#34070f" stroke-width="0.7"/>
<circle cx="190.00" cy="387.30" r="1.9" fill="#7e1430" stroke="#34070f" stroke-width="0.7"/>
<circle cx="197.90" cy="385.90" r="1.9" fill="#7e1430" stroke="#34070f" stroke-width="0.7"/>
<circle cx="195.30" cy="389.00" r="1.9" fill="#7e1430" stroke="#34070f" stroke-width="0.7"/>
<circle cx="205.80" cy="387.50" r="1.9" fill="#7e1430" stroke="#34070f" stroke-width="0.7"/>
<circle cx="213.60" cy="389.20" r="1.9" fill="#7e1430" stroke="#34070f" stroke-width="0.7"/>
<circle cx="200.50" cy="390.60" r="1.9" fill="#7e1430" stroke="#34070f" stroke-width="0.7"/>
<circle cx="208.30" cy="392.30" r="1.9" fill="#7e1430" stroke="#34070f" stroke-width="0.7"/>
<circle cx="211.00" cy="392.90" r="1.9" fill="#7e1430" stroke="#34070f" stroke-width="0.7"/>
<circle cx="195.30" cy="396.00" r="1.9" fill="#7e1430" stroke="#34070f" stroke-width="0.7"/>
<circle cx="200.50" cy="397.70" r="1.9" fill="#7e1430" stroke="#34070f" stroke-width="0.7"/>
<circle cx="205.80" cy="396.50" r="1.9" fill="#7e1430" stroke="#34070f" stroke-width="0.7"/>
<circle cx="208.30" cy="402.70" r="1.9" fill="#7e1430" stroke="#34070f" stroke-width="0.7"/>
<circle cx="197.90" cy="404.90" r="1.9" fill="#7e1430" stroke="#34070f" stroke-width="0.7"/>
<circle cx="203.20" cy="405.50" r="1.9" fill="#7e1430" stroke="#34070f" stroke-width="0.7"/>
<circle cx="205.80" cy="407.80" r="1.9" fill="#7e1430" stroke="#34070f" stroke-width="0.7"/>
<circle cx="200.50" cy="412.50" r="1.9" fill="#7e1430" stroke="#34070f" stroke-width="0.7"/>
<line x1="291.10" y1="380.75" x2="359.50" y2="380.75" stroke="#606060" stroke-width="1.5" stroke-dasharray="1.7 1.75"/>
<line x1="291.10" y1="431.70" x2="291.10" y2="326.80" stroke="#2a2a2a" stroke-width="1.3" />
<line x1="288.10" y1="431.70" x2="291.10" y2="431.70" stroke="#2a2a2a" stroke-width="1.1" />
<text x="285.00" y="434.80" font-size="8.6" text-anchor="end" fill="#2b2b2b" stroke="#2b2b2b" stroke-width="0.12" textLength="5.16" lengthAdjust="spacingAndGlyphs" >0</text>
<line x1="288.10" y1="406.23" x2="291.10" y2="406.23" stroke="#2a2a2a" stroke-width="1.1" />
<text x="285.00" y="409.32" font-size="8.6" text-anchor="end" fill="#2b2b2b" stroke="#2b2b2b" stroke-width="0.12" textLength="10.33" lengthAdjust="spacingAndGlyphs" >50</text>
<line x1="288.10" y1="380.75" x2="291.10" y2="380.75" stroke="#2a2a2a" stroke-width="1.1" />
<text x="285.00" y="383.85" font-size="8.6" text-anchor="end" fill="#2b2b2b" stroke="#2b2b2b" stroke-width="0.12" textLength="15.49" lengthAdjust="spacingAndGlyphs" >100</text>
<line x1="288.10" y1="355.27" x2="291.10" y2="355.27" stroke="#2a2a2a" stroke-width="1.1" />
<text x="285.00" y="358.37" font-size="8.6" text-anchor="end" fill="#2b2b2b" stroke="#2b2b2b" stroke-width="0.12" textLength="15.49" lengthAdjust="spacingAndGlyphs" >150</text>
<line x1="288.10" y1="329.80" x2="291.10" y2="329.80" stroke="#2a2a2a" stroke-width="1.1" />
<text x="285.00" y="332.90" font-size="8.6" text-anchor="end" fill="#2b2b2b" stroke="#2b2b2b" stroke-width="0.12" textLength="15.49" lengthAdjust="spacingAndGlyphs" >200</text>
<line x1="290.50" y1="431.70" x2="359.50" y2="431.70" stroke="#2a2a2a" stroke-width="1.3" />
<text transform="translate(263.20,379.00) rotate(-90)" font-size="9.3" text-anchor="middle" fill="#2b2b2b" stroke="#2b2b2b" stroke-width="0.4" word-spacing="1.3" textLength="87.8" lengthAdjust="spacingAndGlyphs">Transverse axis change (%)</text>
<circle cx="324.90" cy="343.50" r="1.9" fill="#7e1430" stroke="#34070f" stroke-width="0.7"/>
<circle cx="314.60" cy="376.60" r="1.9" fill="#7e1430" stroke="#34070f" stroke-width="0.7"/>
<circle cx="320.10" cy="378.60" r="1.9" fill="#7e1430" stroke="#34070f" stroke-width="0.7"/>
<circle cx="324.90" cy="378.60" r="1.9" fill="#7e1430" stroke="#34070f" stroke-width="0.7"/>
<circle cx="330.10" cy="377.10" r="1.9" fill="#7e1430" stroke="#34070f" stroke-width="0.7"/>
<circle cx="335.30" cy="376.60" r="1.9" fill="#7e1430" stroke="#34070f" stroke-width="0.7"/>
<circle cx="309.70" cy="380.70" r="1.9" fill="#7e1430" stroke="#34070f" stroke-width="0.7"/>
<circle cx="313.80" cy="381.50" r="1.9" fill="#7e1430" stroke="#34070f" stroke-width="0.7"/>
<circle cx="318.30" cy="383.00" r="1.9" fill="#7e1430" stroke="#34070f" stroke-width="0.7"/>
<circle cx="323.20" cy="384.00" r="1.9" fill="#7e1430" stroke="#34070f" stroke-width="0.7"/>
<circle cx="327.30" cy="383.00" r="1.9" fill="#7e1430" stroke="#34070f" stroke-width="0.7"/>
<circle cx="331.50" cy="382.30" r="1.9" fill="#7e1430" stroke="#34070f" stroke-width="0.7"/>
<circle cx="336.00" cy="381.20" r="1.9" fill="#7e1430" stroke="#34070f" stroke-width="0.7"/>
<circle cx="340.30" cy="379.90" r="1.9" fill="#7e1430" stroke="#34070f" stroke-width="0.7"/>
<circle cx="317.30" cy="384.90" r="1.9" fill="#7e1430" stroke="#34070f" stroke-width="0.7"/>
<circle cx="322.50" cy="388.00" r="1.9" fill="#7e1430" stroke="#34070f" stroke-width="0.7"/>
<circle cx="327.60" cy="389.50" r="1.9" fill="#7e1430" stroke="#34070f" stroke-width="0.7"/>
<circle cx="332.80" cy="386.10" r="1.9" fill="#7e1430" stroke="#34070f" stroke-width="0.7"/>
<circle cx="310.70" cy="391.60" r="1.9" fill="#7e1430" stroke="#34070f" stroke-width="0.7"/>
<circle cx="315.40" cy="392.70" r="1.9" fill="#7e1430" stroke="#34070f" stroke-width="0.7"/>
<circle cx="320.40" cy="393.70" r="1.9" fill="#7e1430" stroke="#34070f" stroke-width="0.7"/>
<circle cx="324.90" cy="395.30" r="1.9" fill="#7e1430" stroke="#34070f" stroke-width="0.7"/>
<circle cx="329.70" cy="394.40" r="1.9" fill="#7e1430" stroke="#34070f" stroke-width="0.7"/>
<circle cx="334.60" cy="393.40" r="1.9" fill="#7e1430" stroke="#34070f" stroke-width="0.7"/>
<circle cx="339.30" cy="391.90" r="1.9" fill="#7e1430" stroke="#34070f" stroke-width="0.7"/>
<line x1="432.20" y1="380.75" x2="500.00" y2="380.75" stroke="#606060" stroke-width="1.5" stroke-dasharray="1.7 1.75"/>
<line x1="432.20" y1="431.70" x2="432.20" y2="326.80" stroke="#2a2a2a" stroke-width="1.3" />
<line x1="429.20" y1="431.70" x2="432.20" y2="431.70" stroke="#2a2a2a" stroke-width="1.1" />
<text x="426.10" y="434.80" font-size="8.6" text-anchor="end" fill="#2b2b2b" stroke="#2b2b2b" stroke-width="0.12" textLength="5.16" lengthAdjust="spacingAndGlyphs" >0</text>
<line x1="429.20" y1="406.23" x2="432.20" y2="406.23" stroke="#2a2a2a" stroke-width="1.1" />
<text x="426.10" y="409.32" font-size="8.6" text-anchor="end" fill="#2b2b2b" stroke="#2b2b2b" stroke-width="0.12" textLength="10.33" lengthAdjust="spacingAndGlyphs" >50</text>
<line x1="429.20" y1="380.75" x2="432.20" y2="380.75" stroke="#2a2a2a" stroke-width="1.1" />
<text x="426.10" y="383.85" font-size="8.6" text-anchor="end" fill="#2b2b2b" stroke="#2b2b2b" stroke-width="0.12" textLength="15.49" lengthAdjust="spacingAndGlyphs" >100</text>
<line x1="429.20" y1="355.27" x2="432.20" y2="355.27" stroke="#2a2a2a" stroke-width="1.1" />
<text x="426.10" y="358.37" font-size="8.6" text-anchor="end" fill="#2b2b2b" stroke="#2b2b2b" stroke-width="0.12" textLength="15.49" lengthAdjust="spacingAndGlyphs" >150</text>
<line x1="429.20" y1="329.80" x2="432.20" y2="329.80" stroke="#2a2a2a" stroke-width="1.1" />
<text x="426.10" y="332.90" font-size="8.6" text-anchor="end" fill="#2b2b2b" stroke="#2b2b2b" stroke-width="0.12" textLength="15.49" lengthAdjust="spacingAndGlyphs" >200</text>
<line x1="431.60" y1="431.70" x2="500.00" y2="431.70" stroke="#2a2a2a" stroke-width="1.3" />
<text transform="translate(404.80,379.00) rotate(-90)" font-size="9.3" text-anchor="middle" fill="#2b2b2b" stroke="#2b2b2b" stroke-width="0.4" word-spacing="1.3" textLength="102.6" lengthAdjust="spacingAndGlyphs">Anteroposterior axis change (%)</text>
<circle cx="466.30" cy="348.80" r="1.9" fill="#7e1430" stroke="#34070f" stroke-width="0.7"/>
<circle cx="463.50" cy="367.80" r="1.9" fill="#7e1430" stroke="#34070f" stroke-width="0.7"/>
<circle cx="468.80" cy="371.70" r="1.9" fill="#7e1430" stroke="#34070f" stroke-width="0.7"/>
<circle cx="455.80" cy="375.10" r="1.9" fill="#7e1430" stroke="#34070f" stroke-width="0.7"/>
<circle cx="461.00" cy="377.40" r="1.9" fill="#7e1430" stroke="#34070f" stroke-width="0.7"/>
<circle cx="466.30" cy="377.90" r="1.9" fill="#7e1430" stroke="#34070f" stroke-width="0.7"/>
<circle cx="471.50" cy="377.60" r="1.9" fill="#7e1430" stroke="#34070f" stroke-width="0.7"/>
<circle cx="479.20" cy="376.50" r="1.9" fill="#7e1430" stroke="#34070f" stroke-width="0.7"/>
<circle cx="455.80" cy="380.40" r="1.9" fill="#7e1430" stroke="#34070f" stroke-width="0.7"/>
<circle cx="476.70" cy="381.00" r="1.9" fill="#7e1430" stroke="#34070f" stroke-width="0.7"/>
<circle cx="453.90" cy="384.90" r="1.9" fill="#7e1430" stroke="#34070f" stroke-width="0.7"/>
<circle cx="461.00" cy="383.20" r="1.9" fill="#7e1430" stroke="#34070f" stroke-width="0.7"/>
<circle cx="463.50" cy="384.90" r="1.9" fill="#7e1430" stroke="#34070f" stroke-width="0.7"/>
<circle cx="468.80" cy="384.60" r="1.9" fill="#7e1430" stroke="#34070f" stroke-width="0.7"/>
<circle cx="471.50" cy="384.00" r="1.9" fill="#7e1430" stroke="#34070f" stroke-width="0.7"/>
<circle cx="478.30" cy="385.10" r="1.9" fill="#7e1430" stroke="#34070f" stroke-width="0.7"/>
<circle cx="457.60" cy="386.90" r="1.9" fill="#7e1430" stroke="#34070f" stroke-width="0.7"/>
<circle cx="461.20" cy="386.90" r="1.9" fill="#7e1430" stroke="#34070f" stroke-width="0.7"/>
<circle cx="464.40" cy="388.80" r="1.9" fill="#7e1430" stroke="#34070f" stroke-width="0.7"/>
<circle cx="467.70" cy="388.00" r="1.9" fill="#7e1430" stroke="#34070f" stroke-width="0.7"/>
<circle cx="471.30" cy="386.90" r="1.9" fill="#7e1430" stroke="#34070f" stroke-width="0.7"/>
<circle cx="474.70" cy="386.00" r="1.9" fill="#7e1430" stroke="#34070f" stroke-width="0.7"/>
<circle cx="471.30" cy="395.00" r="1.9" fill="#7e1430" stroke="#34070f" stroke-width="0.7"/>
<circle cx="461.00" cy="398.30" r="1.9" fill="#7e1430" stroke="#34070f" stroke-width="0.7"/>
<circle cx="466.30" cy="400.00" r="1.9" fill="#7e1430" stroke="#34070f" stroke-width="0.7"/>
<circle cx="466.30" cy="407.00" r="1.9" fill="#7e1430" stroke="#34070f" stroke-width="0.7"/>
<line x1="76.30" y1="593.70" x2="76.30" y2="491.70" stroke="#2a2a2a" stroke-width="1.3" />
<line x1="73.20" y1="568.93" x2="76.30" y2="568.93" stroke="#2a2a2a" stroke-width="1.1" />
<text x="69.60" y="572.03" font-size="8.6" text-anchor="end" fill="#2b2b2b" stroke="#2b2b2b" stroke-width="0.12" textLength="5.16" lengthAdjust="spacingAndGlyphs" >1</text>
<line x1="73.20" y1="544.15" x2="76.30" y2="544.15" stroke="#2a2a2a" stroke-width="1.1" />
<text x="69.60" y="547.25" font-size="8.6" text-anchor="end" fill="#2b2b2b" stroke="#2b2b2b" stroke-width="0.12" textLength="5.16" lengthAdjust="spacingAndGlyphs" >2</text>
<line x1="73.20" y1="519.38" x2="76.30" y2="519.38" stroke="#2a2a2a" stroke-width="1.1" />
<text x="69.60" y="522.48" font-size="8.6" text-anchor="end" fill="#2b2b2b" stroke="#2b2b2b" stroke-width="0.12" textLength="5.16" lengthAdjust="spacingAndGlyphs" >3</text>
<line x1="73.20" y1="494.60" x2="76.30" y2="494.60" stroke="#2a2a2a" stroke-width="1.1" />
<text x="69.60" y="497.70" font-size="8.6" text-anchor="end" fill="#2b2b2b" stroke="#2b2b2b" stroke-width="0.12" textLength="5.16" lengthAdjust="spacingAndGlyphs" >4</text>
<line x1="13.50" y1="593.70" x2="168.40" y2="593.70" stroke="#2a2a2a" stroke-width="1.3" />
<line x1="16.40" y1="593.70" x2="16.40" y2="596.70" stroke="#2a2a2a" stroke-width="1.1" />
<text x="16.40" y="608.20" font-size="8.6" text-anchor="middle" fill="#2b2b2b" stroke="#2b2b2b" stroke-width="0.12" textLength="15.75" lengthAdjust="spacingAndGlyphs" >−40</text>
<line x1="46.38" y1="593.70" x2="46.38" y2="596.70" stroke="#2a2a2a" stroke-width="1.1" />
<text x="46.38" y="608.20" font-size="8.6" text-anchor="middle" fill="#2b2b2b" stroke="#2b2b2b" stroke-width="0.12" textLength="15.75" lengthAdjust="spacingAndGlyphs" >−20</text>
<line x1="76.36" y1="593.70" x2="76.36" y2="596.70" stroke="#2a2a2a" stroke-width="1.1" />
<text x="76.36" y="608.20" font-size="8.6" text-anchor="middle" fill="#2b2b2b" stroke="#2b2b2b" stroke-width="0.12" textLength="5.16" lengthAdjust="spacingAndGlyphs" >0</text>
<line x1="106.34" y1="593.70" x2="106.34" y2="596.70" stroke="#2a2a2a" stroke-width="1.1" />
<text x="106.34" y="608.20" font-size="8.6" text-anchor="middle" fill="#2b2b2b" stroke="#2b2b2b" stroke-width="0.12" textLength="10.33" lengthAdjust="spacingAndGlyphs" >20</text>
<line x1="136.32" y1="593.70" x2="136.32" y2="596.70" stroke="#2a2a2a" stroke-width="1.1" />
<text x="136.32" y="608.20" font-size="8.6" text-anchor="middle" fill="#2b2b2b" stroke="#2b2b2b" stroke-width="0.12" textLength="10.33" lengthAdjust="spacingAndGlyphs" >40</text>
<line x1="166.30" y1="593.70" x2="166.30" y2="596.70" stroke="#2a2a2a" stroke-width="1.1" />
<text x="166.30" y="608.20" font-size="8.6" text-anchor="middle" fill="#2b2b2b" stroke="#2b2b2b" stroke-width="0.12" textLength="10.33" lengthAdjust="spacingAndGlyphs" >60</text>
<text transform="translate(16.40,542.00) rotate(-90)" font-size="9.3" text-anchor="middle" fill="#2b2b2b" stroke="#2b2b2b" stroke-width="0.4" word-spacing="1.3" textLength="51.9" lengthAdjust="spacingAndGlyphs">FC lymphocytes</text>
<text x="91.00" y="621.80" font-size="9.600000000000001" text-anchor="middle" fill="#2b2b2b" stroke="#2b2b2b" stroke-width="0.45" word-spacing="1.3" textLength="39.1" lengthAdjust="spacingAndGlyphs">Vol SPL (%)</text>
<text x="136.00" y="483.60" font-size="8.3" fill="#2b2b2b" textLength="41.4" lengthAdjust="spacingAndGlyphs"><tspan font-style="italic">r</tspan> = 0.4349</text>
<text x="136.00" y="496.00" font-size="8.3" fill="#2b2b2b" textLength="37.9" lengthAdjust="spacingAndGlyphs"><tspan font-style="italic">P</tspan> = .0337</text>
<line x1="36.10" y1="558.10" x2="165.40" y2="533.00" stroke="#161616" stroke-width="1.5" />
<circle cx="36.10" cy="557.60" r="1.85" fill="#7e1430" stroke="#34070f" stroke-width="0.7"/>
<circle cx="60.80" cy="534.40" r="1.85" fill="#7e1430" stroke="#34070f" stroke-width="0.7"/>
<circle cx="62.90" cy="549.40" r="1.85" fill="#7e1430" stroke="#34070f" stroke-width="0.7"/>
<circle cx="63.70" cy="555.00" r="1.85" fill="#7e1430" stroke="#34070f" stroke-width="0.7"/>
<circle cx="68.90" cy="547.70" r="1.85" fill="#7e1430" stroke="#34070f" stroke-width="0.7"/>
<circle cx="70.20" cy="556.00" r="1.85" fill="#7e1430" stroke="#34070f" stroke-width="0.7"/>
<circle cx="73.60" cy="547.30" r="1.85" fill="#7e1430" stroke="#34070f" stroke-width="0.7"/>
<circle cx="80.20" cy="537.80" r="1.85" fill="#7e1430" stroke="#34070f" stroke-width="0.7"/>
<circle cx="82.80" cy="562.70" r="1.85" fill="#7e1430" stroke="#34070f" stroke-width="0.7"/>
<circle cx="89.70" cy="557.20" r="1.85" fill="#7e1430" stroke="#34070f" stroke-width="0.7"/>
<circle cx="96.60" cy="541.30" r="1.85" fill="#7e1430" stroke="#34070f" stroke-width="0.7"/>
<circle cx="98.90" cy="570.70" r="1.85" fill="#7e1430" stroke="#34070f" stroke-width="0.7"/>
<circle cx="104.80" cy="539.60" r="1.85" fill="#7e1430" stroke="#34070f" stroke-width="0.7"/>
<circle cx="107.50" cy="533.80" r="1.85" fill="#7e1430" stroke="#34070f" stroke-width="0.7"/>
<circle cx="106.50" cy="546.00" r="1.85" fill="#7e1430" stroke="#34070f" stroke-width="0.7"/>
<circle cx="110.00" cy="542.20" r="1.85" fill="#7e1430" stroke="#34070f" stroke-width="0.7"/>
<circle cx="114.50" cy="541.60" r="1.85" fill="#7e1430" stroke="#34070f" stroke-width="0.7"/>
<circle cx="107.90" cy="553.70" r="1.85" fill="#7e1430" stroke="#34070f" stroke-width="0.7"/>
<circle cx="108.70" cy="560.20" r="1.85" fill="#7e1430" stroke="#34070f" stroke-width="0.7"/>
<circle cx="119.10" cy="565.90" r="1.85" fill="#7e1430" stroke="#34070f" stroke-width="0.7"/>
<circle cx="128.50" cy="525.60" r="1.85" fill="#7e1430" stroke="#34070f" stroke-width="0.7"/>
<circle cx="148.50" cy="511.20" r="1.85" fill="#7e1430" stroke="#34070f" stroke-width="0.7"/>
<circle cx="151.50" cy="544.40" r="1.85" fill="#7e1430" stroke="#34070f" stroke-width="0.7"/>
<circle cx="163.20" cy="531.50" r="1.85" fill="#7e1430" stroke="#34070f" stroke-width="0.7"/>
<line x1="230.6" y1="542.50" x2="298" y2="542.50" stroke="#4a4a4a" stroke-width="1.4" stroke-dasharray="2.6 2.0" stroke-dashoffset="-0.6"/>
<line x1="230.60" y1="593.30" x2="230.60" y2="488.60" stroke="#2a2a2a" stroke-width="1.3" />
<line x1="227.60" y1="593.20" x2="230.60" y2="593.20" stroke="#2a2a2a" stroke-width="1.1" />
<text x="224.50" y="596.30" font-size="8.6" text-anchor="end" fill="#2b2b2b" stroke="#2b2b2b" stroke-width="0.12" textLength="15.75" lengthAdjust="spacingAndGlyphs" >−15</text>
<line x1="227.60" y1="576.30" x2="230.60" y2="576.30" stroke="#2a2a2a" stroke-width="1.1" />
<text x="224.50" y="579.40" font-size="8.6" text-anchor="end" fill="#2b2b2b" stroke="#2b2b2b" stroke-width="0.12" textLength="15.75" lengthAdjust="spacingAndGlyphs" >−10</text>
<line x1="227.60" y1="559.40" x2="230.60" y2="559.40" stroke="#2a2a2a" stroke-width="1.1" />
<text x="224.50" y="562.50" font-size="8.6" text-anchor="end" fill="#2b2b2b" stroke="#2b2b2b" stroke-width="0.12" textLength="10.59" lengthAdjust="spacingAndGlyphs" >−5</text>
<line x1="227.60" y1="542.50" x2="230.60" y2="542.50" stroke="#2a2a2a" stroke-width="1.1" />
<text x="224.50" y="545.60" font-size="8.6" text-anchor="end" fill="#2b2b2b" stroke="#2b2b2b" stroke-width="0.12" textLength="5.16" lengthAdjust="spacingAndGlyphs" >0</text>
<line x1="227.60" y1="525.60" x2="230.60" y2="525.60" stroke="#2a2a2a" stroke-width="1.1" />
<text x="224.50" y="528.70" font-size="8.6" text-anchor="end" fill="#2b2b2b" stroke="#2b2b2b" stroke-width="0.12" textLength="5.16" lengthAdjust="spacingAndGlyphs" >5</text>
<line x1="227.60" y1="508.70" x2="230.60" y2="508.70" stroke="#2a2a2a" stroke-width="1.1" />
<text x="224.50" y="511.80" font-size="8.6" text-anchor="end" fill="#2b2b2b" stroke="#2b2b2b" stroke-width="0.12" textLength="10.33" lengthAdjust="spacingAndGlyphs" >10</text>
<line x1="227.60" y1="491.80" x2="230.60" y2="491.80" stroke="#2a2a2a" stroke-width="1.1" />
<text x="224.50" y="494.90" font-size="8.6" text-anchor="end" fill="#2b2b2b" stroke="#2b2b2b" stroke-width="0.12" textLength="10.33" lengthAdjust="spacingAndGlyphs" >15</text>
<line x1="230.00" y1="593.30" x2="301.60" y2="593.30" stroke="#2a2a2a" stroke-width="1.3" />
<line x1="230.90" y1="593.30" x2="230.90" y2="596.30" stroke="#2a2a2a" stroke-width="1.1" />
<text x="230.90" y="608.10" font-size="8.6" text-anchor="middle" fill="#2b2b2b" stroke="#2b2b2b" stroke-width="0.12" textLength="5.16" lengthAdjust="spacingAndGlyphs" >0</text>
<line x1="253.70" y1="593.30" x2="253.70" y2="596.30" stroke="#2a2a2a" stroke-width="1.1" />
<text x="253.70" y="608.10" font-size="8.6" text-anchor="middle" fill="#2b2b2b" stroke="#2b2b2b" stroke-width="0.12" textLength="10.33" lengthAdjust="spacingAndGlyphs" >50</text>
<line x1="276.50" y1="593.30" x2="276.50" y2="596.30" stroke="#2a2a2a" stroke-width="1.1" />
<text x="276.50" y="608.10" font-size="8.6" text-anchor="middle" fill="#2b2b2b" stroke="#2b2b2b" stroke-width="0.12" textLength="15.49" lengthAdjust="spacingAndGlyphs" >100</text>
<line x1="299.30" y1="593.30" x2="299.30" y2="596.30" stroke="#2a2a2a" stroke-width="1.1" />
<text x="299.30" y="608.10" font-size="8.6" text-anchor="middle" fill="#2b2b2b" stroke="#2b2b2b" stroke-width="0.12" textLength="15.49" lengthAdjust="spacingAndGlyphs" >150</text>
<text transform="translate(202.80,541.15) rotate(-90)" font-size="9.3" text-anchor="middle" fill="#2b2b2b" stroke="#2b2b2b" stroke-width="0.4" word-spacing="1.3" textLength="82.5" lengthAdjust="spacingAndGlyphs">Caudal axis reduction (%)</text>
<text x="266.30" y="621.50" font-size="9.600000000000001" text-anchor="middle" fill="#2b2b2b" stroke="#2b2b2b" stroke-width="0.45" word-spacing="1.3" textLength="46.3" lengthAdjust="spacingAndGlyphs">[Dasa] plasma</text>
<text x="274.70" y="477.70" font-size="8.3" fill="#2b2b2b" textLength="41.3" lengthAdjust="spacingAndGlyphs">r = 0.5314</text>
<text x="274.70" y="490.40" font-size="8.3" fill="#2b2b2b" textLength="38.2" lengthAdjust="spacingAndGlyphs"><tspan font-style="italic">P</tspan> = .0075</text>
<line x1="233.50" y1="547.10" x2="294.00" y2="505.80" stroke="#161616" stroke-width="1.5" />
<circle cx="233.00" cy="536.00" r="1.85" fill="#7e1430" stroke="#34070f" stroke-width="0.7"/>
<circle cx="235.90" cy="532.00" r="1.85" fill="#7e1430" stroke="#34070f" stroke-width="0.7"/>
<circle cx="236.40" cy="554.30" r="1.85" fill="#7e1430" stroke="#34070f" stroke-width="0.7"/>
<circle cx="235.90" cy="578.10" r="1.85" fill="#7e1430" stroke="#34070f" stroke-width="0.7"/>
<circle cx="239.50" cy="544.00" r="1.85" fill="#7e1430" stroke="#34070f" stroke-width="0.7"/>
<circle cx="242.40" cy="543.00" r="1.85" fill="#7e1430" stroke="#34070f" stroke-width="0.7"/>
<circle cx="242.00" cy="526.40" r="1.85" fill="#7e1430" stroke="#34070f" stroke-width="0.7"/>
<circle cx="242.00" cy="513.40" r="1.85" fill="#7e1430" stroke="#34070f" stroke-width="0.7"/>
<circle cx="243.10" cy="567.30" r="1.85" fill="#7e1430" stroke="#34070f" stroke-width="0.7"/>
<circle cx="245.00" cy="533.90" r="1.85" fill="#7e1430" stroke="#34070f" stroke-width="0.7"/>
<circle cx="246.40" cy="522.40" r="1.85" fill="#7e1430" stroke="#34070f" stroke-width="0.7"/>
<circle cx="246.70" cy="537.90" r="1.85" fill="#7e1430" stroke="#34070f" stroke-width="0.7"/>
<circle cx="248.90" cy="542.80" r="1.85" fill="#7e1430" stroke="#34070f" stroke-width="0.7"/>
<circle cx="252.80" cy="531.70" r="1.85" fill="#7e1430" stroke="#34070f" stroke-width="0.7"/>
<circle cx="254.90" cy="527.40" r="1.85" fill="#7e1430" stroke="#34070f" stroke-width="0.7"/>
<circle cx="254.40" cy="538.20" r="1.85" fill="#7e1430" stroke="#34070f" stroke-width="0.7"/>
<circle cx="258.20" cy="539.60" r="1.85" fill="#7e1430" stroke="#34070f" stroke-width="0.7"/>
<circle cx="259.40" cy="521.90" r="1.85" fill="#7e1430" stroke="#34070f" stroke-width="0.7"/>
<circle cx="260.00" cy="560.10" r="1.85" fill="#7e1430" stroke="#34070f" stroke-width="0.7"/>
<circle cx="261.40" cy="533.60" r="1.85" fill="#7e1430" stroke="#34070f" stroke-width="0.7"/>
<circle cx="265.00" cy="509.80" r="1.85" fill="#7e1430" stroke="#34070f" stroke-width="0.7"/>
<circle cx="266.20" cy="529.60" r="1.85" fill="#7e1430" stroke="#34070f" stroke-width="0.7"/>
<circle cx="272.40" cy="500.50" r="1.85" fill="#7e1430" stroke="#34070f" stroke-width="0.7"/>
<circle cx="294.00" cy="510.80" r="1.85" fill="#7e1430" stroke="#34070f" stroke-width="0.7"/>
<line x1="369" y1="559.60" x2="437" y2="559.60" stroke="#555" stroke-width="1.1" stroke-dasharray="1.5 1.6"/>
<line x1="369.00" y1="593.30" x2="369.00" y2="488.60" stroke="#2a2a2a" stroke-width="1.3" />
<line x1="366.00" y1="593.80" x2="369.00" y2="593.80" stroke="#2a2a2a" stroke-width="1.1" />
<text x="362.90" y="596.90" font-size="8.6" text-anchor="end" fill="#2b2b2b" stroke="#2b2b2b" stroke-width="0.12" textLength="15.75" lengthAdjust="spacingAndGlyphs" >−40</text>
<line x1="366.00" y1="576.70" x2="369.00" y2="576.70" stroke="#2a2a2a" stroke-width="1.1" />
<text x="362.90" y="579.80" font-size="8.6" text-anchor="end" fill="#2b2b2b" stroke="#2b2b2b" stroke-width="0.12" textLength="15.75" lengthAdjust="spacingAndGlyphs" >−20</text>
<line x1="366.00" y1="559.60" x2="369.00" y2="559.60" stroke="#2a2a2a" stroke-width="1.1" />
<text x="362.90" y="562.70" font-size="8.6" text-anchor="end" fill="#2b2b2b" stroke="#2b2b2b" stroke-width="0.12" textLength="5.16" lengthAdjust="spacingAndGlyphs" >0</text>
<line x1="366.00" y1="542.50" x2="369.00" y2="542.50" stroke="#2a2a2a" stroke-width="1.1" />
<text x="362.90" y="545.60" font-size="8.6" text-anchor="end" fill="#2b2b2b" stroke="#2b2b2b" stroke-width="0.12" textLength="10.33" lengthAdjust="spacingAndGlyphs" >20</text>
<line x1="366.00" y1="525.40" x2="369.00" y2="525.40" stroke="#2a2a2a" stroke-width="1.1" />
<text x="362.90" y="528.50" font-size="8.6" text-anchor="end" fill="#2b2b2b" stroke="#2b2b2b" stroke-width="0.12" textLength="10.33" lengthAdjust="spacingAndGlyphs" >40</text>
<line x1="366.00" y1="508.30" x2="369.00" y2="508.30" stroke="#2a2a2a" stroke-width="1.1" />
<text x="362.90" y="511.40" font-size="8.6" text-anchor="end" fill="#2b2b2b" stroke="#2b2b2b" stroke-width="0.12" textLength="10.33" lengthAdjust="spacingAndGlyphs" >60</text>
<line x1="366.00" y1="491.20" x2="369.00" y2="491.20" stroke="#2a2a2a" stroke-width="1.1" />
<text x="362.90" y="494.30" font-size="8.6" text-anchor="end" fill="#2b2b2b" stroke="#2b2b2b" stroke-width="0.12" textLength="10.33" lengthAdjust="spacingAndGlyphs" >80</text>
<line x1="368.40" y1="593.30" x2="438.90" y2="593.30" stroke="#2a2a2a" stroke-width="1.3" />
<line x1="369.00" y1="593.30" x2="369.00" y2="596.30" stroke="#2a2a2a" stroke-width="1.1" />
<text x="369.00" y="608.10" font-size="8.6" text-anchor="middle" fill="#2b2b2b" stroke="#2b2b2b" stroke-width="0.12" textLength="5.16" lengthAdjust="spacingAndGlyphs" >0</text>
<line x1="391.77" y1="593.30" x2="391.77" y2="596.30" stroke="#2a2a2a" stroke-width="1.1" />
<text x="391.77" y="608.10" font-size="8.6" text-anchor="middle" fill="#2b2b2b" stroke="#2b2b2b" stroke-width="0.12" textLength="5.16" lengthAdjust="spacingAndGlyphs" >5</text>
<line x1="414.53" y1="593.30" x2="414.53" y2="596.30" stroke="#2a2a2a" stroke-width="1.1" />
<text x="414.53" y="608.10" font-size="8.6" text-anchor="middle" fill="#2b2b2b" stroke="#2b2b2b" stroke-width="0.12" textLength="10.33" lengthAdjust="spacingAndGlyphs" >10</text>
<line x1="437.30" y1="593.30" x2="437.30" y2="596.30" stroke="#2a2a2a" stroke-width="1.1" />
<text x="437.30" y="608.10" font-size="8.6" text-anchor="middle" fill="#2b2b2b" stroke="#2b2b2b" stroke-width="0.12" textLength="10.33" lengthAdjust="spacingAndGlyphs" >15</text>
<text transform="translate(341.80,541.90) rotate(-90)" font-size="9.3" text-anchor="middle" fill="#2b2b2b" stroke="#2b2b2b" stroke-width="0.4" word-spacing="1.3" textLength="39.7" lengthAdjust="spacingAndGlyphs">Vol SPL (%)</text>
<text x="404.20" y="621.50" font-size="9.600000000000001" text-anchor="middle" fill="#2b2b2b" stroke="#2b2b2b" stroke-width="0.45" word-spacing="1.3" textLength="45.2" lengthAdjust="spacingAndGlyphs">Years on Dasa</text>
<text x="408.90" y="477.90" font-size="8.3" fill="#2b2b2b" textLength="45.6" lengthAdjust="spacingAndGlyphs"><tspan font-style="italic">r</tspan> = −0.4003</text>
<text x="408.90" y="490.60" font-size="8.3" fill="#2b2b2b" textLength="37.0" lengthAdjust="spacingAndGlyphs"><tspan font-style="italic">P</tspan> = .0474</text>
<line x1="380.10" y1="539.20" x2="431.60" y2="560.30" stroke="#161616" stroke-width="1.5" />
<circle cx="379.00" cy="537.90" r="1.85" fill="#7e1430" stroke="#34070f" stroke-width="0.7"/>
<circle cx="381.20" cy="540.70" r="1.85" fill="#7e1430" stroke="#34070f" stroke-width="0.7"/>
<circle cx="381.60" cy="548.00" r="1.85" fill="#7e1430" stroke="#34070f" stroke-width="0.7"/>
<circle cx="381.60" cy="563.90" r="1.85" fill="#7e1430" stroke="#34070f" stroke-width="0.7"/>
<circle cx="384.90" cy="534.60" r="1.85" fill="#7e1430" stroke="#34070f" stroke-width="0.7"/>
<circle cx="390.20" cy="518.30" r="1.85" fill="#7e1430" stroke="#34070f" stroke-width="0.7"/>
<circle cx="390.70" cy="529.90" r="1.85" fill="#7e1430" stroke="#34070f" stroke-width="0.7"/>
<circle cx="390.20" cy="546.90" r="1.85" fill="#7e1430" stroke="#34070f" stroke-width="0.7"/>
<circle cx="392.40" cy="542.50" r="1.85" fill="#7e1430" stroke="#34070f" stroke-width="0.7"/>
<circle cx="394.30" cy="543.00" r="1.85" fill="#7e1430" stroke="#34070f" stroke-width="0.7"/>
<circle cx="393.80" cy="555.80" r="1.85" fill="#7e1430" stroke="#34070f" stroke-width="0.7"/>
<circle cx="396.00" cy="509.80" r="1.85" fill="#7e1430" stroke="#34070f" stroke-width="0.7"/>
<circle cx="396.00" cy="582.90" r="1.85" fill="#7e1430" stroke="#34070f" stroke-width="0.7"/>
<circle cx="398.90" cy="557.40" r="1.85" fill="#7e1430" stroke="#34070f" stroke-width="0.7"/>
<circle cx="401.50" cy="516.30" r="1.85" fill="#7e1430" stroke="#34070f" stroke-width="0.7"/>
<circle cx="401.10" cy="541.80" r="1.85" fill="#7e1430" stroke="#34070f" stroke-width="0.7"/>
<circle cx="405.80" cy="563.00" r="1.85" fill="#7e1430" stroke="#34070f" stroke-width="0.7"/>
<circle cx="405.70" cy="566.80" r="1.85" fill="#7e1430" stroke="#34070f" stroke-width="0.7"/>
<circle cx="415.80" cy="551.60" r="1.85" fill="#7e1430" stroke="#34070f" stroke-width="0.7"/>
<circle cx="417.20" cy="541.80" r="1.85" fill="#7e1430" stroke="#34070f" stroke-width="0.7"/>
<circle cx="423.10" cy="554.80" r="1.85" fill="#7e1430" stroke="#34070f" stroke-width="0.7"/>
<circle cx="428.90" cy="567.40" r="1.85" fill="#7e1430" stroke="#34070f" stroke-width="0.7"/>
<circle cx="432.10" cy="561.30" r="1.85" fill="#7e1430" stroke="#34070f" stroke-width="0.7"/>
<circle cx="433.10" cy="568.50" r="1.85" fill="#7e1430" stroke="#34070f" stroke-width="0.7"/>
</svg></body></html>
